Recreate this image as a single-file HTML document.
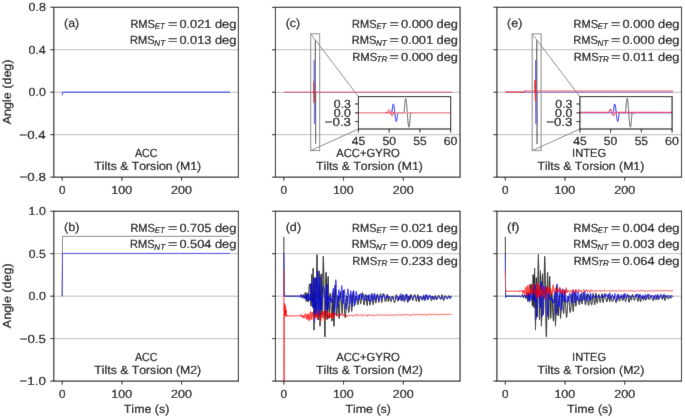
<!DOCTYPE html>
<html><head><meta charset="utf-8"><title>Figure</title>
<style>html,body{margin:0;padding:0;background:#fff;overflow:hidden;} svg{display:block;} text{-webkit-font-smoothing:antialiased;text-rendering:geometricPrecision;} svg{will-change:transform;}</style>
</head><body>
<svg width="685" height="418" viewBox="0 0 685 418">
<defs><filter id="soft" x="0" y="0" width="685" height="418" filterUnits="userSpaceOnUse"><feConvolveMatrix order="3" kernelMatrix="0.0052 0.0619 0.0052 0.0619 0.7314 0.0619 0.0052 0.0619 0.0052" edgeMode="duplicate"/></filter></defs>
<g filter="url(#soft)">
<rect width="685" height="418" fill="#fff"/>
<g font-family='"Liberation Sans", sans-serif' fill="#000" stroke="#000" stroke-width="0.2" style="font-kerning:none">
<line x1="53.80" y1="49.76" x2="238.40" y2="49.76" stroke="#bdbdbd" stroke-width="1.0"/>
<line x1="53.80" y1="92.23" x2="238.40" y2="92.23" stroke="#bdbdbd" stroke-width="1.0"/>
<line x1="53.80" y1="134.69" x2="238.40" y2="134.69" stroke="#bdbdbd" stroke-width="1.0"/>
<clipPath id="ca"><rect x="53.80" y="7.30" width="184.60" height="169.85"/></clipPath>
<g clip-path="url(#ca)">
<path d="M62.2 95.4L62.5 92.2L230.0 92.2" fill="none" stroke="#0000ff" stroke-width="0.85" stroke-linejoin="round"/>
</g>
<rect x="53.80" y="7.30" width="184.60" height="169.85" fill="none" stroke="#111" stroke-width="1.1"/>
<line x1="50.30" y1="7.30" x2="53.80" y2="7.30" stroke="#111" stroke-width="1.0"/>
<text x="28.56" y="11.35" font-size="11.81" textLength="17.28" lengthAdjust="spacingAndGlyphs">0.8</text>
<line x1="50.30" y1="49.76" x2="53.80" y2="49.76" stroke="#111" stroke-width="1.0"/>
<text x="28.43" y="53.81" font-size="11.81" textLength="17.24" lengthAdjust="spacingAndGlyphs">0.4</text>
<line x1="50.30" y1="92.23" x2="53.80" y2="92.23" stroke="#111" stroke-width="1.0"/>
<text x="28.54" y="96.28" font-size="11.81" textLength="17.25" lengthAdjust="spacingAndGlyphs">0.0</text>
<line x1="50.30" y1="134.69" x2="53.80" y2="134.69" stroke="#111" stroke-width="1.0"/>
<text x="19.36" y="138.74" font-size="11.81" textLength="26.33" lengthAdjust="spacingAndGlyphs">−0.4</text>
<line x1="50.30" y1="177.15" x2="53.80" y2="177.15" stroke="#111" stroke-width="1.0"/>
<text x="19.50" y="181.20" font-size="11.81" textLength="26.38" lengthAdjust="spacingAndGlyphs">−0.8</text>
<line x1="62.19" y1="177.15" x2="62.19" y2="180.65" stroke="#111" stroke-width="1.0"/>
<text x="58.92" y="193.75" font-size="11.81" textLength="6.55" lengthAdjust="spacingAndGlyphs">0</text>
<line x1="121.91" y1="177.15" x2="121.91" y2="180.65" stroke="#111" stroke-width="1.0"/>
<text x="111.31" y="193.75" font-size="11.81" textLength="20.75" lengthAdjust="spacingAndGlyphs">100</text>
<line x1="181.63" y1="177.15" x2="181.63" y2="180.65" stroke="#111" stroke-width="1.0"/>
<text x="171.14" y="193.75" font-size="11.81" textLength="20.85" lengthAdjust="spacingAndGlyphs">200</text>
<text x="64.03" y="27.40" font-size="11.81" textLength="15.17" lengthAdjust="spacingAndGlyphs">(a)</text>
<text x="179.40" y="27.65" font-size="11.81" textLength="56.92" lengthAdjust="spacingAndGlyphs">0.021 deg</text>
<text x="167.92" y="27.65" font-size="11.81" textLength="9.38" lengthAdjust="spacingAndGlyphs">=</text>
<text x="154.76" y="29.25" font-size="8.27" textLength="9.88" lengthAdjust="spacingAndGlyphs" font-style="italic">ET</text>
<text x="130.40" y="27.65" font-size="11.81" textLength="24.51" lengthAdjust="spacingAndGlyphs">RMS</text>
<text x="179.40" y="44.15" font-size="11.81" textLength="56.92" lengthAdjust="spacingAndGlyphs">0.013 deg</text>
<text x="167.92" y="44.15" font-size="11.81" textLength="9.38" lengthAdjust="spacingAndGlyphs">=</text>
<text x="154.35" y="45.75" font-size="8.27" textLength="10.77" lengthAdjust="spacingAndGlyphs" font-style="italic">NT</text>
<text x="130.09" y="44.15" font-size="11.81" textLength="24.62" lengthAdjust="spacingAndGlyphs">RMS</text>
<text x="134.92" y="156.90" font-size="11.81" textLength="22.76" lengthAdjust="spacingAndGlyphs">ACC</text>
<text x="94.33" y="169.55" font-size="11.81" textLength="106.82" lengthAdjust="spacingAndGlyphs">Tilts &amp; Torsion (M1)</text>
<line x1="53.80" y1="253.71" x2="238.40" y2="253.71" stroke="#bdbdbd" stroke-width="1.0"/>
<line x1="53.80" y1="296.18" x2="238.40" y2="296.18" stroke="#bdbdbd" stroke-width="1.0"/>
<line x1="53.80" y1="338.64" x2="238.40" y2="338.64" stroke="#bdbdbd" stroke-width="1.0"/>
<clipPath id="cb"><rect x="53.80" y="211.25" width="184.60" height="169.85"/></clipPath>
<g clip-path="url(#cb)">
<path d="M62.2 296.2L62.5 236.3L230.0 236.3" fill="none" stroke="#000000" stroke-width="0.8" stroke-linejoin="round" stroke-opacity="0.6"/>
<path d="M62.2 296.2L62.5 253.4L230.0 253.4" fill="none" stroke="#0000ff" stroke-width="0.7" stroke-linejoin="round"/>
</g>
<rect x="53.80" y="211.25" width="184.60" height="169.85" fill="none" stroke="#111" stroke-width="1.1"/>
<line x1="50.30" y1="211.25" x2="53.80" y2="211.25" stroke="#111" stroke-width="1.0"/>
<text x="28.58" y="215.30" font-size="11.81" textLength="17.20" lengthAdjust="spacingAndGlyphs">1.0</text>
<line x1="50.30" y1="253.71" x2="53.80" y2="253.71" stroke="#111" stroke-width="1.0"/>
<text x="28.76" y="257.76" font-size="11.81" textLength="17.05" lengthAdjust="spacingAndGlyphs">0.5</text>
<line x1="50.30" y1="296.18" x2="53.80" y2="296.18" stroke="#111" stroke-width="1.0"/>
<text x="28.54" y="300.23" font-size="11.81" textLength="17.25" lengthAdjust="spacingAndGlyphs">0.0</text>
<line x1="50.30" y1="338.64" x2="53.80" y2="338.64" stroke="#111" stroke-width="1.0"/>
<text x="19.70" y="342.69" font-size="11.81" textLength="26.16" lengthAdjust="spacingAndGlyphs">−0.5</text>
<line x1="50.30" y1="381.10" x2="53.80" y2="381.10" stroke="#111" stroke-width="1.0"/>
<text x="19.47" y="385.15" font-size="11.81" textLength="26.35" lengthAdjust="spacingAndGlyphs">−1.0</text>
<line x1="62.19" y1="381.10" x2="62.19" y2="384.60" stroke="#111" stroke-width="1.0"/>
<text x="58.92" y="397.70" font-size="11.81" textLength="6.55" lengthAdjust="spacingAndGlyphs">0</text>
<line x1="121.91" y1="381.10" x2="121.91" y2="384.60" stroke="#111" stroke-width="1.0"/>
<text x="111.31" y="397.70" font-size="11.81" textLength="20.75" lengthAdjust="spacingAndGlyphs">100</text>
<line x1="181.63" y1="381.10" x2="181.63" y2="384.60" stroke="#111" stroke-width="1.0"/>
<text x="171.14" y="397.70" font-size="11.81" textLength="20.85" lengthAdjust="spacingAndGlyphs">200</text>
<text x="64.02" y="231.35" font-size="11.81" textLength="15.45" lengthAdjust="spacingAndGlyphs">(b)</text>
<text x="179.40" y="231.60" font-size="11.81" textLength="56.92" lengthAdjust="spacingAndGlyphs">0.705 deg</text>
<text x="167.92" y="231.60" font-size="11.81" textLength="9.38" lengthAdjust="spacingAndGlyphs">=</text>
<text x="154.76" y="233.20" font-size="8.27" textLength="9.88" lengthAdjust="spacingAndGlyphs" font-style="italic">ET</text>
<text x="130.40" y="231.60" font-size="11.81" textLength="24.51" lengthAdjust="spacingAndGlyphs">RMS</text>
<text x="179.40" y="248.10" font-size="11.81" textLength="56.92" lengthAdjust="spacingAndGlyphs">0.504 deg</text>
<text x="167.92" y="248.10" font-size="11.81" textLength="9.38" lengthAdjust="spacingAndGlyphs">=</text>
<text x="154.35" y="249.70" font-size="8.27" textLength="10.77" lengthAdjust="spacingAndGlyphs" font-style="italic">NT</text>
<text x="130.09" y="248.10" font-size="11.81" textLength="24.62" lengthAdjust="spacingAndGlyphs">RMS</text>
<text x="134.92" y="360.85" font-size="11.81" textLength="22.76" lengthAdjust="spacingAndGlyphs">ACC</text>
<text x="94.33" y="373.50" font-size="11.81" textLength="106.82" lengthAdjust="spacingAndGlyphs">Tilts &amp; Torsion (M2)</text>
<line x1="275.45" y1="49.76" x2="460.05" y2="49.76" stroke="#bdbdbd" stroke-width="1.0"/>
<line x1="275.45" y1="92.23" x2="460.05" y2="92.23" stroke="#bdbdbd" stroke-width="1.0"/>
<line x1="275.45" y1="134.69" x2="460.05" y2="134.69" stroke="#bdbdbd" stroke-width="1.0"/>
<clipPath id="cc"><rect x="275.45" y="7.30" width="184.60" height="169.85"/></clipPath>
<g clip-path="url(#cc)">
<path d="M314.9 92.2L315.1 92.2L315.2 89.1L315.2 82.8L315.2 76.7L315.2 70.9L315.2 65.3L315.2 60.1L315.2 55.4L315.2 51.3L315.3 47.7L315.3 44.8L315.3 42.6L315.3 41.1L315.3 40.3L315.3 41.1L315.3 42.6L315.4 44.8L315.4 47.7L315.4 51.3L315.4 55.4L315.4 60.1L315.4 65.3L315.4 70.9L315.4 76.7L315.4 82.8L315.5 89.1L315.5 95.4L315.5 101.6L315.5 107.7L315.5 113.6L315.5 119.1L315.5 124.3L315.5 129.0L315.6 133.2L315.6 136.7L315.6 139.7L315.6 141.9L315.6 143.4L315.6 144.1L315.6 143.4L315.6 141.9L315.7 139.7L315.7 136.7L315.7 133.2L315.7 129.0L315.7 124.3L315.7 119.1L315.7 113.6L315.7 107.7L315.8 101.6L315.8 95.4L315.8 92.2L316.1 92.2" fill="none" stroke="#333" stroke-width="0.6" stroke-linejoin="round"/>
<path d="M313.7 92.2L314.0 92.2L314.0 90.1L314.0 86.0L314.0 82.0L314.0 78.1L314.0 74.5L314.0 71.2L314.0 68.3L314.0 65.7L314.1 63.7L314.1 62.1L314.1 61.0L314.1 60.4L314.1 61.0L314.1 62.1L314.1 63.7L314.2 65.7L314.2 68.3L314.2 71.2L314.2 74.5L314.2 78.1L314.2 82.0L314.2 86.0L314.2 90.1L314.3 94.3L314.3 98.4L314.3 102.5L314.3 106.3L314.3 109.9L314.3 113.2L314.3 116.2L314.3 118.7L314.3 120.8L314.4 122.4L314.4 123.5L314.4 124.0L314.4 123.5L314.4 122.4L314.4 120.8L314.4 118.7L314.5 116.2L314.5 113.2L314.5 109.9L314.5 106.3L314.5 102.5L314.5 98.4L314.5 94.3L314.5 92.2L314.9 92.2" fill="none" stroke="#4040ff" stroke-width="0.6" stroke-linejoin="round"/>
<path d="M283.8 92.2L451.7 92.2" fill="none" stroke="#dc4068" stroke-width="1.1" stroke-linejoin="round"/>
<path d="M313.3 92.2L313.5 92.2L313.5 90.9L313.6 89.6L313.6 88.3L313.6 87.1L313.6 86.0L313.6 85.0L313.6 84.0L313.6 83.3L313.6 82.6L313.7 82.1L313.7 81.8L313.7 81.6L313.7 81.8L313.7 82.1L313.7 82.6L313.7 83.3L313.7 84.0L313.8 85.0L313.8 86.0L313.8 87.1L313.8 88.3L313.8 89.6L313.8 90.9L313.8 92.2L313.8 93.6L313.9 94.9L313.9 96.1L313.9 97.3L313.9 98.5L313.9 99.5L313.9 100.4L313.9 101.2L313.9 101.8L314.0 102.3L314.0 102.7L314.0 102.8L314.0 102.7L314.0 102.3L314.0 101.8L314.0 101.2L314.0 100.4L314.1 99.5L314.1 98.5L314.1 97.3L314.1 96.1L314.1 94.9L314.1 93.6L314.1 92.2L314.3 92.2" fill="none" stroke="#ff0000" stroke-width="0.7" stroke-linejoin="round"/>
</g>
<rect x="275.45" y="7.30" width="184.60" height="169.85" fill="none" stroke="#111" stroke-width="1.1"/>
<line x1="271.95" y1="7.30" x2="275.45" y2="7.30" stroke="#111" stroke-width="1.0"/>
<line x1="271.95" y1="49.76" x2="275.45" y2="49.76" stroke="#111" stroke-width="1.0"/>
<line x1="271.95" y1="92.23" x2="275.45" y2="92.23" stroke="#111" stroke-width="1.0"/>
<line x1="271.95" y1="134.69" x2="275.45" y2="134.69" stroke="#111" stroke-width="1.0"/>
<line x1="271.95" y1="177.15" x2="275.45" y2="177.15" stroke="#111" stroke-width="1.0"/>
<line x1="283.84" y1="177.15" x2="283.84" y2="180.65" stroke="#111" stroke-width="1.0"/>
<text x="280.57" y="193.75" font-size="11.81" textLength="6.55" lengthAdjust="spacingAndGlyphs">0</text>
<line x1="343.56" y1="177.15" x2="343.56" y2="180.65" stroke="#111" stroke-width="1.0"/>
<text x="332.96" y="193.75" font-size="11.81" textLength="20.75" lengthAdjust="spacingAndGlyphs">100</text>
<line x1="403.28" y1="177.15" x2="403.28" y2="180.65" stroke="#111" stroke-width="1.0"/>
<text x="392.79" y="193.75" font-size="11.81" textLength="20.85" lengthAdjust="spacingAndGlyphs">200</text>
<rect x="310.72" y="33.84" width="8.96" height="116.77" fill="none" stroke="#888" stroke-width="1.0"/>
<line x1="310.72" y1="33.84" x2="358.45" y2="96.60" stroke="#888" stroke-width="1.0"/>
<line x1="310.72" y1="150.61" x2="358.45" y2="129.00" stroke="#888" stroke-width="1.0"/>
<rect x="358.45" y="96.60" width="92.20" height="32.40" fill="#fff" stroke="none"/>
<clipPath id="cci"><rect x="358.45" y="96.60" width="92.20" height="32.40"/></clipPath>
<g clip-path="url(#cci)">
<path d="M401.5 112.8L401.5 112.8L401.6 112.8L401.7 112.8L401.8 112.8L402.0 112.8L402.1 112.8L402.2 112.8L402.3 112.8L402.5 112.8L402.6 112.8L402.7 112.8L402.8 112.8L403.0 112.8L403.1 112.8L403.2 112.8L403.3 112.8L403.4 112.8L403.6 112.8L403.7 112.8L403.8 112.8L403.9 112.8L404.1 112.8L404.2 111.9L404.3 110.2L404.4 108.5L404.6 106.9L404.6 106.9L404.7 105.3L404.8 103.9L404.9 102.6L405.0 101.4L405.2 100.4L405.3 99.6L405.4 99.0L405.5 98.6L405.7 98.4L405.8 98.4L405.9 98.6L406.0 99.0L406.1 99.6L406.3 100.4L406.4 101.4L406.5 102.6L406.6 103.9L406.8 105.3L406.9 106.9L407.0 108.5L407.1 110.2L407.3 111.9L407.4 113.7L407.5 115.4L407.6 117.1L407.6 117.1L407.7 118.7L407.9 120.3L408.0 121.7L408.1 123.0L408.2 124.2L408.4 125.2L408.5 126.0L408.6 126.6L408.7 127.0L408.9 127.2L409.0 127.2L409.1 127.0L409.2 126.6L409.3 126.0L409.5 125.2L409.6 124.2L409.7 123.0L409.8 121.7L410.0 120.3L410.1 118.7L410.2 117.1L410.3 115.4L410.5 113.7L410.6 112.8L410.7 112.8L410.7 112.8L410.8 112.8L410.9 112.8L411.1 112.8L411.2 112.8L411.3 112.8L411.4 112.8L411.6 112.8L411.7 112.8L411.8 112.8L411.9 112.8L412.0 112.8L412.2 112.8L412.3 112.8L412.4 112.8L412.5 112.8L412.7 112.8L412.8 112.8L412.9 112.8L413.0 112.8L413.2 112.8L413.3 112.8L413.4 112.8L413.5 112.8L413.6 112.8L413.8 112.8" fill="none" stroke="#3a3a3a" stroke-width="0.8" stroke-linejoin="round"/>
<path d="M389.2 112.8L389.2 112.8L389.3 112.8L389.4 112.8L389.6 112.8L389.7 112.8L389.8 112.8L389.9 112.8L390.0 112.8L390.2 112.8L390.3 112.8L390.4 112.8L390.5 112.8L390.7 112.8L390.8 112.8L390.9 112.8L391.0 112.8L391.2 112.8L391.3 112.8L391.4 112.8L391.5 112.8L391.6 112.8L391.8 112.8L391.9 112.2L392.0 111.1L392.1 110.0L392.3 108.9L392.3 108.9L392.4 107.9L392.5 107.0L392.6 106.2L392.7 105.5L392.9 104.9L393.0 104.4L393.1 104.1L393.2 104.0L393.4 104.0L393.5 104.1L393.6 104.4L393.7 104.9L393.9 105.5L394.0 106.2L394.1 107.0L394.2 107.9L394.3 108.9L394.5 110.0L394.6 111.1L394.7 112.2L394.8 113.4L395.0 114.5L395.1 115.6L395.2 116.7L395.3 117.7L395.3 117.7L395.5 118.6L395.6 119.4L395.7 120.1L395.8 120.7L395.9 121.2L396.1 121.5L396.2 121.6L396.3 121.6L396.4 121.5L396.6 121.2L396.7 120.7L396.8 120.1L396.9 119.4L397.1 118.6L397.2 117.7L397.3 116.7L397.4 115.6L397.5 114.5L397.7 113.4L397.8 112.8L397.9 112.8L398.0 112.8L398.2 112.8L398.3 112.8L398.4 112.8L398.4 112.8L398.5 112.8L398.6 112.8L398.8 112.8L398.9 112.8L399.0 112.8L399.1 112.8L399.3 112.8L399.4 112.8L399.5 112.8L399.6 112.8L399.8 112.8L399.9 112.8L400.0 112.8L400.1 112.8L400.2 112.8L400.4 112.8L400.5 112.8L400.6 112.8L400.7 112.8L400.9 112.8L401.0 112.8L401.1 112.8L401.2 112.8L401.4 112.8L401.5 112.8" fill="none" stroke="#0000ff" stroke-width="0.9" stroke-linejoin="round"/>
<path d="M355.4 112.8L358.4 112.8L361.5 112.8L364.6 112.8L367.7 112.8L370.7 112.8L373.8 112.8L376.9 112.8L380.0 112.8L383.0 112.8L383.2 112.8L383.3 112.8L383.4 112.8L383.5 112.8L383.7 112.8L383.8 112.8L383.9 112.8L384.0 112.8L384.1 112.8L384.3 112.8L384.4 112.8L384.5 112.8L384.6 112.8L384.8 112.8L384.9 112.8L385.0 112.8L385.1 112.8L385.2 112.8L385.4 112.8L385.5 112.8L385.6 112.8L385.7 112.8L385.9 112.8L386.0 112.8L386.1 112.8L386.1 112.8L386.2 112.8L386.4 112.8L386.5 112.8L386.6 112.8L386.7 112.8L386.8 112.8L387.0 112.8L387.1 112.8L387.2 112.8L387.3 112.8L387.5 112.8L387.6 112.8L387.7 112.8L387.8 112.8L388.0 112.8L388.1 112.8L388.2 112.8L388.3 112.8L388.4 112.8L388.6 112.8L388.7 112.8L388.8 112.8L388.9 112.8L389.1 112.8L389.2 112.8L389.2 112.8L389.3 112.8L389.4 112.8L389.6 112.8L389.7 112.8L389.8 112.8L389.9 112.8L390.0 112.8L390.2 112.8L390.3 112.8L390.4 112.8L390.5 112.8L390.7 112.8L390.8 112.8L390.9 112.8L391.0 112.8L391.2 112.8L391.3 112.8L391.4 112.8L391.5 112.8L391.6 112.8L391.8 112.8L391.9 112.8L392.0 112.8L392.1 112.8L392.3 112.8L392.3 112.8L392.4 112.8L392.5 112.8L392.6 112.8L392.7 112.8L392.9 112.8L393.0 112.8L393.1 112.8L393.2 112.8L393.4 112.8L393.5 112.8L393.6 112.8L393.7 112.8L393.9 112.8L394.0 112.8L394.1 112.8L394.2 112.8L394.3 112.8L394.5 112.8L394.6 112.8L394.7 112.8L394.8 112.8L395.0 112.8L395.1 112.8L395.2 112.8L395.3 112.8L395.3 112.8L395.5 112.8L395.6 112.8L395.7 112.8L395.8 112.8L395.9 112.8L396.1 112.8L396.2 112.8L396.3 112.8L396.4 112.8L396.6 112.8L396.7 112.8L396.8 112.8L396.9 112.8L397.1 112.8L397.2 112.8L397.3 112.8L397.4 112.8L397.5 112.8L397.7 112.8L397.8 112.8L397.9 112.8L398.0 112.8L398.2 112.8L398.3 112.8L398.4 112.8L398.4 112.8L398.5 112.8L398.6 112.8L398.8 112.8L398.9 112.8L399.0 112.8L399.1 112.8L399.3 112.8L399.4 112.8L399.5 112.8L399.6 112.8L399.8 112.8L399.9 112.8L400.0 112.8L400.1 112.8L400.2 112.8L400.4 112.8L400.5 112.8L400.6 112.8L400.7 112.8L400.9 112.8L401.0 112.8L401.1 112.8L401.2 112.8L401.4 112.8L401.5 112.8L401.5 112.8L401.6 112.8L401.7 112.8L401.8 112.8L402.0 112.8L402.1 112.8L402.2 112.8L402.3 112.8L402.5 112.8L402.6 112.8L402.7 112.8L402.8 112.8L403.0 112.8L403.1 112.8L403.2 112.8L403.3 112.8L403.4 112.8L403.6 112.8L403.7 112.8L403.8 112.8L403.9 112.8L404.1 112.8L404.2 112.8L404.3 112.8L404.4 112.8L404.6 112.8L404.6 112.8L404.7 112.8L404.8 112.8L404.9 112.8L405.0 112.8L405.2 112.8L405.3 112.8L405.4 112.8L405.5 112.8L405.7 112.8L405.8 112.8L405.9 112.8L406.0 112.8L406.1 112.8L406.3 112.8L406.4 112.8L406.5 112.8L406.6 112.8L406.8 112.8L406.9 112.8L407.0 112.8L407.1 112.8L407.3 112.8L407.4 112.8L407.5 112.8L407.6 112.8L407.6 112.8L407.7 112.8L407.9 112.8L408.0 112.8L408.1 112.8L408.2 112.8L408.4 112.8L408.5 112.8L408.6 112.8L408.7 112.8L408.9 112.8L409.0 112.8L409.1 112.8L409.2 112.8L409.3 112.8L409.5 112.8L409.6 112.8L409.7 112.8L409.8 112.8L410.0 112.8L410.1 112.8L410.2 112.8L410.3 112.8L410.5 112.8L410.6 112.8L410.7 112.8L410.7 112.8L410.8 112.8L410.9 112.8L411.1 112.8L411.2 112.8L411.3 112.8L411.4 112.8L411.6 112.8L411.7 112.8L411.8 112.8L411.9 112.8L412.0 112.8L412.2 112.8L412.3 112.8L412.4 112.8L412.5 112.8L412.7 112.8L412.8 112.8L412.9 112.8L413.0 112.8L413.2 112.8L413.3 112.8L413.4 112.8L413.5 112.8L413.6 112.8L413.8 112.8L413.8 112.8L413.9 112.8L414.0 112.8L414.1 112.8L414.3 112.8L414.4 112.8L414.5 112.8L414.6 112.8L414.8 112.8L414.9 112.8L415.0 112.8L415.1 112.8L415.2 112.8L415.4 112.8L415.5 112.8L415.6 112.8L415.7 112.8L415.9 112.8L416.0 112.8L416.1 112.8L416.2 112.8L416.4 112.8L416.5 112.8L416.6 112.8L416.7 112.8L416.8 112.8L419.9 112.8L423.0 112.8L426.1 112.8L429.1 112.8L432.2 112.8L435.3 112.8L438.4 112.8L441.4 112.8L444.5 112.8L447.6 112.8L450.6 112.8L453.7 112.8" fill="none" stroke="#f0909c" stroke-width="1.6" stroke-linejoin="round"/>
<path d="M385.5 112.8L385.6 112.8L385.7 112.8L385.9 112.8L386.0 112.8L386.1 112.8L386.1 112.8L386.2 112.8L386.4 112.8L386.5 112.8L386.6 112.8L386.7 112.8L386.8 112.8L387.0 112.8L387.1 112.8L387.2 112.8L387.3 112.8L387.5 112.8L387.6 112.4L387.7 112.1L387.8 111.7L388.0 111.4L388.1 111.1L388.2 110.8L388.3 110.5L388.4 110.3L388.6 110.1L388.7 110.0L388.8 109.9L388.9 109.9L389.1 109.9L389.2 109.9L389.2 109.9L389.3 110.0L389.4 110.1L389.6 110.3L389.7 110.5L389.8 110.8L389.9 111.1L390.0 111.4L390.2 111.7L390.3 112.1L390.4 112.4L390.5 112.8L390.7 113.2L390.8 113.5L390.9 113.9L391.0 114.2L391.2 114.5L391.3 114.8L391.4 115.1L391.5 115.3L391.6 115.5L391.8 115.6L391.9 115.7L392.0 115.7L392.1 115.7L392.3 115.7L392.3 115.7L392.4 115.6L392.5 115.5L392.6 115.3L392.7 115.1L392.9 114.8L393.0 114.5L393.1 114.2L393.2 113.9L393.4 113.5L393.5 113.2L393.6 112.8L393.7 112.8L393.9 112.8L394.0 112.8L394.1 112.8L394.2 112.8L394.3 112.8L394.5 112.8L394.6 112.8L394.7 112.8L394.8 112.8L395.0 112.8L395.1 112.8L395.2 112.8L395.3 112.8" fill="none" stroke="#ff0000" stroke-width="0.9" stroke-linejoin="round"/>
</g>
<rect x="358.45" y="96.60" width="92.20" height="32.40" fill="none" stroke="#111" stroke-width="1.1"/>
<line x1="354.95" y1="103.96" x2="358.45" y2="103.96" stroke="#111" stroke-width="1.0"/>
<text x="333.83" y="108.01" font-size="11.81" textLength="17.16" lengthAdjust="spacingAndGlyphs">0.3</text>
<line x1="354.95" y1="112.80" x2="358.45" y2="112.80" stroke="#111" stroke-width="1.0"/>
<text x="333.69" y="116.85" font-size="11.81" textLength="17.25" lengthAdjust="spacingAndGlyphs">0.0</text>
<line x1="354.95" y1="121.64" x2="358.45" y2="121.64" stroke="#111" stroke-width="1.0"/>
<text x="324.76" y="125.69" font-size="11.81" textLength="26.27" lengthAdjust="spacingAndGlyphs">−0.3</text>
<line x1="358.45" y1="129.00" x2="358.45" y2="132.50" stroke="#111" stroke-width="1.0"/>
<text x="351.82" y="145.10" font-size="11.81" textLength="13.50" lengthAdjust="spacingAndGlyphs">45</text>
<line x1="389.18" y1="129.00" x2="389.18" y2="132.50" stroke="#111" stroke-width="1.0"/>
<text x="382.40" y="145.10" font-size="11.81" textLength="13.56" lengthAdjust="spacingAndGlyphs">50</text>
<line x1="419.92" y1="129.00" x2="419.92" y2="132.50" stroke="#111" stroke-width="1.0"/>
<text x="413.25" y="145.10" font-size="11.81" textLength="13.36" lengthAdjust="spacingAndGlyphs">55</text>
<line x1="450.65" y1="129.00" x2="450.65" y2="132.50" stroke="#111" stroke-width="1.0"/>
<text x="443.68" y="145.10" font-size="11.81" textLength="13.80" lengthAdjust="spacingAndGlyphs">60</text>
<text x="285.68" y="27.40" font-size="11.81" textLength="14.47" lengthAdjust="spacingAndGlyphs">(c)</text>
<text x="401.05" y="27.65" font-size="11.81" textLength="56.92" lengthAdjust="spacingAndGlyphs">0.000 deg</text>
<text x="389.57" y="27.65" font-size="11.81" textLength="9.38" lengthAdjust="spacingAndGlyphs">=</text>
<text x="376.41" y="29.25" font-size="8.27" textLength="9.88" lengthAdjust="spacingAndGlyphs" font-style="italic">ET</text>
<text x="352.05" y="27.65" font-size="11.81" textLength="24.51" lengthAdjust="spacingAndGlyphs">RMS</text>
<text x="401.05" y="44.15" font-size="11.81" textLength="56.92" lengthAdjust="spacingAndGlyphs">0.001 deg</text>
<text x="389.57" y="44.15" font-size="11.81" textLength="9.38" lengthAdjust="spacingAndGlyphs">=</text>
<text x="376.00" y="45.75" font-size="8.27" textLength="10.77" lengthAdjust="spacingAndGlyphs" font-style="italic">NT</text>
<text x="351.74" y="44.15" font-size="11.81" textLength="24.62" lengthAdjust="spacingAndGlyphs">RMS</text>
<text x="401.05" y="60.65" font-size="11.81" textLength="56.92" lengthAdjust="spacingAndGlyphs">0.000 deg</text>
<text x="389.57" y="60.65" font-size="11.81" textLength="9.38" lengthAdjust="spacingAndGlyphs">=</text>
<text x="376.62" y="62.25" font-size="8.27" textLength="10.88" lengthAdjust="spacingAndGlyphs" font-style="italic">TR</text>
<text x="352.23" y="60.65" font-size="11.81" textLength="25.04" lengthAdjust="spacingAndGlyphs">RMS</text>
<text x="336.19" y="156.90" font-size="11.81" textLength="63.64" lengthAdjust="spacingAndGlyphs">ACC+GYRO</text>
<text x="315.98" y="169.55" font-size="11.81" textLength="106.82" lengthAdjust="spacingAndGlyphs">Tilts &amp; Torsion (M1)</text>
<line x1="275.45" y1="253.71" x2="460.05" y2="253.71" stroke="#bdbdbd" stroke-width="1.0"/>
<line x1="275.45" y1="296.18" x2="460.05" y2="296.18" stroke="#bdbdbd" stroke-width="1.0"/>
<line x1="275.45" y1="338.64" x2="460.05" y2="338.64" stroke="#bdbdbd" stroke-width="1.0"/>
<clipPath id="cd"><rect x="275.45" y="211.25" width="184.60" height="169.85"/></clipPath>
<g clip-path="url(#cd)">
<path d="M283.8 236.7L284.1 296.2L298.2 296.2L298.5 296.3L298.8 296.5L299.1 296.8L299.4 296.9L299.7 296.8L300.0 296.3L300.3 295.5L300.6 294.8L300.9 294.4L301.2 294.8L301.5 296.4L301.8 297.7L302.1 297.5L302.4 296.3L302.7 295.1L303.0 294.9L303.3 295.4L303.5 296.4L303.8 297.6L304.1 298.5L304.4 298.8L304.7 297.3L305.0 294.0L305.3 292.3L305.6 294.4L305.9 298.9L306.2 301.5L306.5 300.0L306.8 295.9L307.1 292.8L307.4 293.6L307.7 298.1L308.0 302.1L308.3 301.9L308.6 296.7L308.9 289.5L309.2 284.4L309.5 283.9L309.8 285.2L310.1 286.0L310.4 293.1L310.7 305.3L311.0 306.1L311.3 289.0L311.6 274.6L311.9 283.2L312.2 305.3L312.5 307.8L312.8 283.9L313.1 268.1L313.4 283.6L313.7 314.6L314.0 330.1L314.3 317.0L314.6 290.7L314.9 277.5L315.2 286.4L315.5 305.1L315.8 317.0L316.1 310.8L316.4 288.6L316.7 264.7L317.0 254.6L317.3 266.5L317.6 293.9L317.9 317.2L318.2 319.9L318.5 303.1L318.8 280.8L319.1 270.7L319.4 283.2L319.7 309.4L320.0 326.2L320.3 319.7L320.6 297.1L320.9 276.5L321.2 273.8L321.5 287.8L321.8 306.4L322.1 314.9L322.4 306.3L322.7 285.6L323.0 264.8L323.3 256.3L323.6 262.6L323.9 279.6L324.2 302.1L324.5 323.1L324.8 336.3L325.0 337.0L325.3 320.1L325.6 294.2L325.9 274.4L326.2 272.2L326.5 286.9L326.8 307.6L327.1 319.6L327.4 314.1L327.7 295.4L328.0 278.3L328.3 276.4L328.6 290.7L328.9 309.7L329.2 318.3L329.5 313.2L329.8 301.9L330.1 293.5L330.4 293.3L330.7 297.5L331.0 304.2L331.3 311.8L331.6 318.0L331.9 321.2L332.2 318.6L332.5 306.2L332.8 294.0L333.1 292.5L333.4 303.4L333.7 318.5L334.0 326.3L334.3 317.9L334.6 297.8L334.9 285.1L335.2 286.4L335.5 292.0L335.8 300.1L336.1 308.3L336.4 314.1L336.7 315.9L337.0 313.1L337.3 306.9L337.6 300.1L337.9 295.6L338.2 295.9L338.5 303.3L338.8 313.2L339.1 318.6L339.4 316.2L339.7 308.3L340.0 298.7L340.3 292.3L340.6 291.7L340.9 294.5L341.2 299.4L341.5 305.3L341.8 310.4L342.1 313.6L342.4 313.4L342.7 305.8L343.0 295.3L343.3 290.2L343.6 291.7L343.9 296.2L344.2 302.7L344.5 309.4L344.8 314.8L345.1 317.5L345.4 316.9L345.7 313.5L346.0 308.4L346.3 302.7L346.5 298.1L346.8 295.8L347.1 296.2L347.4 298.6L347.7 302.4L348.0 306.6L348.3 310.3L348.6 312.4L348.9 312.4L349.2 310.1L349.5 305.8L349.8 300.8L350.1 296.5L350.4 293.9L350.7 294.1L351.0 299.7L351.3 307.3L351.6 311.5L351.9 310.3L352.2 306.1L352.5 300.3L352.8 294.9L353.1 291.9L353.4 292.5L353.7 297.7L354.0 303.7L354.3 306.3L354.6 305.5L354.9 303.4L355.2 300.6L355.5 298.0L355.8 296.4L356.1 296.1L356.4 297.1L356.7 298.8L357.0 300.9L357.3 303.0L357.6 304.4L357.9 304.9L358.2 303.9L358.5 301.3L358.8 298.0L359.1 295.3L359.4 294.2L359.7 295.5L360.0 298.9L360.3 302.4L360.6 304.1L360.9 303.4L361.2 301.2L361.5 298.2L361.8 295.2L362.1 293.0L362.4 292.4L362.7 293.6L363.0 296.5L363.3 300.0L363.6 303.1L363.9 304.9L364.2 304.9L364.5 303.1L364.8 300.3L365.1 297.3L365.4 294.9L365.7 294.1L366.0 295.2L366.3 298.2L366.6 301.8L366.9 304.7L367.2 305.7L367.5 304.1L367.8 300.2L368.0 296.6L368.3 295.4L368.6 296.1L368.9 297.7L369.2 300.0L369.5 302.3L369.8 304.2L370.1 305.2L370.4 304.7L370.7 302.0L371.0 298.2L371.3 294.8L371.6 293.4L371.9 294.2L372.2 296.4L372.5 299.5L372.8 302.5L373.1 304.5L373.4 304.9L373.7 301.2L374.0 295.6L374.3 293.1L374.6 294.2L374.9 297.0L375.2 300.2L375.5 302.6L375.8 303.2L376.1 302.1L376.4 300.0L376.7 297.5L377.0 295.3L377.3 294.2L377.6 294.6L377.9 296.7L378.2 299.5L378.5 301.8L378.8 302.5L379.1 301.8L379.4 300.3L379.7 298.2L380.0 296.1L380.3 294.4L380.6 293.6L380.9 294.5L381.2 298.3L381.5 302.0L381.8 302.6L382.1 301.5L382.4 299.4L382.7 296.9L383.0 294.8L383.3 293.5L383.6 293.5L383.9 294.5L384.2 296.1L384.5 298.1L384.8 300.0L385.1 301.4L385.4 302.0L385.7 301.7L386.0 300.4L386.3 298.7L386.6 296.7L386.9 295.1L387.2 294.2L387.5 294.5L387.8 297.5L388.1 300.9L388.4 301.7L388.7 300.1L389.0 297.7L389.2 296.1L389.5 296.1L389.8 297.1L390.1 298.7L390.4 300.3L390.7 301.5L391.0 301.9L391.3 301.5L391.6 300.2L391.9 298.6L392.2 297.1L392.5 296.1L392.8 296.0L393.1 296.7L393.4 298.1L393.7 299.8L394.0 301.4L394.3 302.5L394.6 302.9L394.9 302.3L395.2 300.7L395.5 298.6L395.8 296.5L396.1 295.0L396.4 294.5L396.7 295.2L397.0 297.1L397.3 299.3L397.6 300.9L397.9 301.3L398.2 300.8L398.5 299.9L398.8 298.6L399.1 297.4L399.4 296.4L399.7 295.8L400.0 296.0L400.3 297.0L400.6 298.5L400.9 300.0L401.2 300.9L401.5 300.5L401.8 298.0L402.1 295.2L402.4 294.3L402.7 294.9L403.0 296.2L403.3 297.9L403.6 299.7L403.9 301.1L404.2 301.8L404.5 301.6L404.8 300.4L405.1 298.6L405.4 296.6L405.7 294.9L406.0 294.0L406.3 294.1L406.6 295.8L406.9 298.3L407.2 300.8L407.5 302.3L407.8 302.3L408.1 300.7L408.4 298.2L408.7 296.2L409.0 295.9L409.3 297.1L409.6 299.0L409.9 300.3L410.2 300.0L410.5 297.5L410.7 294.9L411.0 294.3L411.3 294.8L411.6 295.9L411.9 297.4L412.2 298.8L412.5 299.9L412.8 300.5L413.1 300.3L413.4 299.3L413.7 297.8L414.0 296.1L414.3 294.8L414.6 294.2L414.9 294.6L415.2 295.9L415.5 297.7L415.8 299.7L416.1 301.1L416.4 301.5L416.7 300.7L417.0 298.9L417.3 296.7L417.6 295.0L417.9 294.5L418.2 295.8L418.5 298.6L418.8 301.2L419.1 302.0L419.4 300.9L419.7 298.6L420.0 296.6L420.3 296.1L420.6 296.5L420.9 297.2L421.2 298.1L421.5 299.1L421.8 299.9L422.1 300.3L422.4 300.1L422.7 298.9L423.0 297.2L423.3 296.1L423.6 296.6L423.9 298.6L424.2 300.2L424.5 300.2L424.8 299.6L425.1 298.5L425.4 297.1L425.7 295.9L426.0 294.9L426.3 294.5L426.6 295.0L426.9 296.4L427.2 298.2L427.5 299.6L427.8 300.0L428.1 299.6L428.4 298.7L428.7 297.6L429.0 296.4L429.3 295.5L429.6 295.1L429.9 295.3L430.2 296.1L430.5 297.3L430.8 298.7L431.1 299.9L431.4 300.7L431.7 300.8L432.0 299.4L432.2 297.3L432.5 296.0L432.8 296.2L433.1 296.8L433.4 297.8L433.7 298.8L434.0 299.6L434.3 300.0L434.6 299.8L434.9 298.3L435.2 296.3L435.5 295.3L435.8 295.8L436.1 297.4L436.4 299.1L436.7 300.0L437.0 299.9L437.3 299.2L437.6 298.2L437.9 297.0L438.2 296.0L438.5 295.3L438.8 295.3L439.1 295.6L439.4 296.3L439.7 297.2L440.0 298.1L440.3 298.9L440.6 299.4L440.9 299.4L441.2 298.5L441.5 296.8L441.8 295.2L442.1 294.5L442.4 295.1L442.7 296.6L443.0 298.5L443.3 300.0L443.6 300.6L443.9 300.0L444.2 298.6L444.5 297.0L444.8 295.8L445.1 295.5L445.4 295.7L445.7 296.3L446.0 297.1L446.3 298.0L446.6 298.7L446.9 299.1L447.2 299.1L447.5 298.5L447.8 297.6L448.1 296.5L448.4 295.7L448.7 295.4L449.0 296.1L449.3 297.4L449.6 298.2L449.9 298.1L450.2 297.4L450.5 296.7L450.8 296.2L451.7 296.2" fill="none" stroke="#000000" stroke-width="0.85" stroke-linejoin="round"/>
<path d="M283.8 253.7L284.1 295.8L284.4 296.2L297.6 296.2L297.9 296.1L298.2 296.0L298.5 295.9L298.8 295.8L299.1 295.8L299.4 296.5L299.7 297.2L300.0 297.2L300.3 296.5L300.6 295.6L300.9 295.2L301.2 295.2L301.5 295.7L301.8 296.5L302.1 297.6L302.4 298.2L302.7 297.7L303.0 296.5L303.3 295.2L303.5 294.5L303.8 294.5L304.1 295.2L304.4 296.5L304.7 297.9L305.0 299.1L305.3 298.9L305.6 297.2L305.9 294.9L306.2 294.3L306.5 296.0L306.8 298.6L307.1 300.3L307.4 300.3L307.7 299.4L308.0 297.8L308.3 296.1L308.6 294.8L308.9 294.1L309.2 297.0L309.5 300.5L309.8 299.5L310.1 295.0L310.4 288.8L310.7 283.6L311.0 285.7L311.3 294.7L311.6 301.5L311.9 300.7L312.2 298.8L312.5 303.0L312.8 307.7L313.1 301.1L313.4 285.2L313.7 278.6L314.0 290.6L314.3 311.1L314.6 322.3L314.9 315.3L315.2 295.5L315.5 279.6L315.8 277.9L316.1 289.4L316.4 306.3L316.7 315.0L317.0 308.0L317.3 288.4L317.6 271.2L317.9 272.1L318.2 289.3L318.5 308.7L318.8 317.0L319.1 309.5L319.4 292.1L319.7 277.5L320.0 276.7L320.3 289.4L320.6 303.8L320.9 310.4L321.2 307.8L321.5 300.7L321.8 296.8L322.1 297.3L322.4 298.8L322.7 297.0L323.0 290.7L323.3 285.9L323.6 286.6L323.9 288.0L324.2 289.1L324.5 292.0L324.8 296.2L325.0 300.8L325.3 304.8L325.6 310.3L325.9 314.5L326.2 311.3L326.5 300.5L326.8 288.8L327.1 284.0L327.4 289.6L327.7 300.7L328.0 308.9L328.3 308.9L328.6 302.0L328.9 296.9L329.2 296.5L329.5 299.1L329.8 300.6L330.1 299.8L330.4 298.6L330.7 299.6L331.0 298.3L331.3 301.9L331.6 302.6L331.9 299.3L332.2 294.7L332.5 292.0L332.8 291.4L333.1 289.0L333.4 288.4L333.7 293.1L334.0 302.5L334.3 311.8L334.6 315.0L334.9 307.8L335.2 293.3L335.5 282.3L335.8 279.7L336.1 282.2L336.4 288.7L336.7 296.9L337.0 304.2L337.3 307.9L337.6 307.0L337.9 302.8L338.2 297.2L338.5 292.2L338.8 289.5L339.1 291.0L339.4 294.9L339.7 298.7L340.0 300.6L340.3 300.3L340.6 298.7L340.9 296.7L341.2 292.8L341.5 287.0L341.8 285.6L342.1 289.3L342.4 294.7L342.7 300.1L343.0 303.6L343.3 302.4L343.6 297.6L343.9 292.7L344.2 289.8L344.5 289.6L344.8 292.8L345.1 297.6L345.4 302.7L345.7 306.9L346.0 309.2L346.3 309.2L346.5 306.8L346.8 302.3L347.1 296.8L347.4 291.9L347.7 289.0L348.0 288.8L348.3 291.1L348.6 295.1L348.9 299.6L349.2 303.3L349.5 304.8L349.8 303.2L350.1 297.8L350.4 292.5L350.7 290.6L351.0 291.5L351.3 294.7L351.6 300.1L351.9 305.2L352.2 306.7L352.5 303.8L352.8 298.7L353.1 293.5L353.4 290.5L353.7 290.3L354.0 293.0L354.3 298.0L354.6 302.9L354.9 304.8L355.2 303.3L355.5 299.5L355.8 295.1L356.1 291.8L356.4 291.0L356.7 293.2L357.0 297.0L357.3 300.2L357.6 301.0L357.9 298.8L358.2 295.8L358.5 294.9L358.8 296.2L359.1 298.4L359.4 299.5L359.7 298.4L360.0 296.3L360.3 294.4L360.6 293.6L360.9 294.0L361.2 295.3L361.5 296.9L361.8 298.4L362.1 299.3L362.4 298.9L362.7 297.5L363.0 295.7L363.3 294.2L363.6 294.0L363.9 295.3L364.2 297.2L364.5 299.0L364.8 300.3L365.1 300.7L365.4 300.4L365.7 299.5L366.0 298.3L366.3 296.8L366.6 295.6L366.9 295.2L367.2 295.4L367.5 296.0L367.8 297.4L368.0 299.7L368.3 300.6L368.6 299.2L368.9 296.4L369.2 294.2L369.5 294.3L369.8 296.7L370.1 299.9L370.4 302.0L370.7 302.0L371.0 300.0L371.3 297.1L371.6 294.8L371.9 293.8L372.2 294.2L372.5 295.8L372.8 297.7L373.1 299.4L373.4 300.2L373.7 299.7L374.0 298.3L374.3 295.6L374.6 293.2L374.9 294.6L375.2 298.0L375.5 299.7L375.8 300.3L376.1 299.9L376.4 298.6L376.7 296.7L377.0 295.0L377.3 294.0L377.6 294.1L377.9 295.2L378.2 297.1L378.5 299.3L378.8 301.1L379.1 301.3L379.4 299.5L379.7 297.4L380.0 296.6L380.3 296.1L380.6 295.9L380.9 296.0L381.2 296.4L381.5 297.1L381.8 298.6L382.1 299.5L382.4 298.6L382.7 297.0L383.0 295.3L383.3 294.1L383.6 293.6L383.9 293.9L384.2 294.9L384.5 296.3L384.8 297.7L385.1 298.9L385.4 299.3L385.7 298.6L386.0 297.3L386.3 296.2L386.6 295.8L386.9 296.2L387.2 297.1L387.5 297.6L387.8 297.4L388.1 296.6L388.4 296.5L388.7 297.2L389.0 297.6L389.2 297.6L389.5 297.4L389.8 297.5L390.1 297.9L390.4 298.1L390.7 297.9L391.0 297.3L391.3 296.7L391.6 296.5L391.9 296.8L392.2 297.6L392.5 298.6L392.8 299.0L393.1 298.8L393.4 298.4L393.7 298.0L394.0 297.7L394.3 297.5L394.6 297.6L394.9 297.7L395.2 298.1L395.5 298.5L395.8 298.9L396.1 299.1L396.4 298.9L396.7 298.4L397.0 297.5L397.3 296.7L397.6 296.2L397.9 296.3L398.2 296.9L398.5 298.1L398.8 299.4L399.1 300.0L399.4 299.3L399.7 297.8L400.0 296.0L400.3 294.5L400.6 293.7L400.9 294.4L401.2 296.6L401.5 299.3L401.8 301.1L402.1 301.1L402.4 299.4L402.7 297.1L403.0 295.6L403.3 294.9L403.6 294.9L403.9 295.6L404.2 296.9L404.5 298.4L404.8 299.6L405.1 300.1L405.4 299.8L405.7 298.8L406.0 297.3L406.3 295.9L406.6 294.7L406.9 294.2L407.2 294.5L407.5 295.7L407.8 298.0L408.1 300.6L408.4 301.7L408.7 300.9L409.0 299.2L409.3 297.3L409.6 296.0L409.9 295.5L410.2 295.8L410.5 296.2L410.7 296.4L411.0 295.9L411.3 295.6L411.6 296.1L411.9 297.1L412.2 298.1L412.5 298.8L412.8 298.9L413.1 298.5L413.4 297.8L413.7 296.9L414.0 296.3L414.3 295.9L414.6 295.9L414.9 296.3L415.2 296.9L415.5 297.5L415.8 298.0L416.1 298.4L416.4 298.4L416.7 298.2L417.0 297.6L417.3 297.0L417.6 296.4L417.9 296.5L418.2 297.1L418.5 297.8L418.8 298.7L419.1 299.1L419.4 299.0L419.7 298.2L420.0 297.3L420.3 296.4L420.6 296.0L420.9 296.5L421.2 297.4L421.5 298.3L421.8 299.2L422.1 299.7L422.4 299.5L422.7 298.4L423.0 296.9L423.3 295.6L423.6 294.9L423.9 295.0L424.2 296.1L424.5 298.1L424.8 299.9L425.1 300.6L425.4 300.6L425.7 299.5L426.0 297.0L426.3 294.8L426.6 294.2L426.9 295.1L427.2 296.9L427.5 298.7L427.8 299.6L428.1 299.8L428.4 299.2L428.7 298.0L429.0 296.8L429.3 295.6L429.6 294.9L429.9 295.4L430.2 296.9L430.5 298.2L430.8 298.2L431.1 297.4L431.4 296.6L431.7 296.5L432.0 297.3L432.2 298.5L432.5 299.1L432.8 298.6L433.1 297.7L433.4 297.0L433.7 296.3L434.0 296.0L434.3 296.4L434.6 297.1L434.9 297.8L435.2 298.4L435.5 298.3L435.8 297.9L436.1 297.7L436.4 297.9L436.7 298.2L437.0 298.4L437.3 298.3L437.6 297.7L437.9 297.0L438.2 296.4L438.5 296.1L438.8 296.1L439.1 296.4L439.4 297.1L439.7 297.8L440.0 298.5L440.3 299.0L440.6 299.0L440.9 298.2L441.2 297.4L441.5 297.0L441.8 296.8L442.1 296.6L442.4 296.7L442.7 297.2L443.0 298.0L443.3 298.9L443.6 299.6L443.9 299.5L444.2 298.9L444.5 297.9L444.8 296.9L445.1 296.3L445.4 296.1L445.7 296.4L446.0 297.1L446.3 297.7L446.6 298.3L446.9 298.6L447.2 298.7L447.5 298.5L447.8 298.0L448.1 297.4L448.4 296.8L448.7 296.4L449.0 296.3L449.3 296.5L449.6 297.2L449.9 298.1L450.2 298.7L450.5 298.6L450.8 297.9L451.1 297.2L451.4 296.7L451.7 296.7" fill="none" stroke="#0000ff" stroke-width="0.8" stroke-linejoin="round"/>
<path d="M283.8 269.0L284.1 406.6L284.4 303.0L284.7 316.6L285.0 304.7L285.3 315.7L285.6 306.4L285.9 314.0L286.2 309.8L286.5 316.6L286.8 314.9L287.1 316.1L287.4 315.9L295.8 315.9L296.1 315.8L296.4 315.7L296.7 315.7L297.0 316.0L297.3 316.0L297.6 315.9L297.9 315.7L298.2 315.5L298.5 315.6L298.8 316.0L299.1 316.1L299.4 315.5L299.7 315.1L300.0 315.2L300.3 315.8L300.6 316.5L300.9 316.8L301.2 315.9L301.5 314.1L301.8 314.7L302.1 316.5L302.4 317.6L302.7 317.1L303.0 315.8L303.3 315.5L303.5 316.8L303.8 318.1L304.1 318.2L304.4 317.1L304.7 315.4L305.0 314.0L305.3 313.6L305.6 314.5L305.9 316.6L306.2 318.5L306.5 319.1L306.8 316.2L307.1 314.2L307.4 316.8L307.7 319.5L308.0 317.6L308.3 313.8L308.6 314.5L308.9 319.0L309.2 321.1L309.5 319.3L309.8 315.8L310.1 312.6L310.4 311.5L310.7 315.0L311.0 319.7L311.3 319.6L311.6 316.1L311.9 312.6L312.2 311.9L312.5 313.6L312.8 316.6L313.1 319.1L313.4 320.0L313.7 318.1L314.0 315.4L314.3 314.9L314.6 316.0L314.9 317.2L315.2 317.0L315.5 315.0L315.8 313.7L316.1 315.2L316.4 318.1L316.7 318.6L317.0 314.8L317.3 310.8L317.6 310.9L317.9 313.6L318.2 316.7L318.5 317.9L318.8 317.1L319.1 315.7L319.4 314.6L319.7 314.6L320.0 315.9L320.3 318.0L320.6 319.8L320.9 320.7L321.2 319.2L321.5 315.5L321.8 312.3L322.1 312.1L322.4 316.5L322.7 317.9L323.0 314.2L323.3 311.3L323.6 312.7L323.9 316.5L324.2 320.1L324.5 321.0L324.8 319.1L325.0 315.3L325.3 311.7L325.6 309.9L325.9 311.5L326.2 315.7L326.5 317.5L326.8 316.4L327.1 314.1L327.4 312.2L327.7 311.8L328.0 313.5L328.3 316.3L328.6 318.5L328.9 318.4L329.2 315.0L329.5 311.9L329.8 313.0L330.1 316.8L330.4 317.6L330.7 315.8L331.0 313.5L331.3 313.1L331.6 315.8L331.9 318.2L332.2 316.3L332.5 312.5L332.8 312.6L333.1 314.5L333.4 316.9L333.7 318.3L334.0 318.0L334.3 316.6L334.6 314.6L334.9 313.2L335.2 313.0L335.5 313.6L335.8 314.7L336.1 315.7L336.4 316.3L336.7 316.0L337.0 315.0L337.3 314.7L337.6 315.2L337.9 316.0L338.2 316.3L338.5 315.8L338.8 315.0L339.1 314.9L339.4 315.5L339.7 316.0L340.0 315.9L340.3 315.1L340.6 314.0L340.9 313.4L341.2 313.4L341.5 314.0L341.8 314.8L342.1 315.5L342.4 315.8L342.7 315.4L343.0 314.5L343.3 314.3L343.6 315.1L343.9 316.1L344.2 316.3L344.5 316.0L344.8 315.5L345.1 314.9L345.4 314.5L345.7 314.4L346.0 314.8L346.3 315.8L346.5 316.6L346.8 316.8L347.1 316.5L347.4 316.0L347.7 315.4L348.0 315.0L348.3 314.9L348.6 315.0L348.9 315.3L349.2 315.6L349.5 315.8L349.8 315.9L350.1 315.9L350.4 315.7L350.7 315.5L351.0 315.2L351.3 315.1L351.6 315.0L351.9 315.1L352.2 315.4L352.5 315.7L352.8 316.1L353.1 316.2L353.4 316.2L353.7 316.0L354.0 315.6L354.3 315.2L354.6 314.9L354.9 314.8L355.2 314.9L355.5 315.1L355.8 315.4L356.1 315.6L356.4 315.6L356.7 315.1L357.0 314.3L357.3 314.0L357.6 314.2L357.9 314.6L358.2 315.1L358.5 315.6L358.8 315.9L359.1 316.0L359.4 315.8L359.7 315.5L360.0 315.1L360.3 314.7L360.6 314.5L360.9 314.5L361.2 314.7L361.5 315.2L361.8 315.7L362.1 316.0L362.4 316.1L362.7 315.8L363.0 315.5L363.3 315.0L363.6 314.7L363.9 314.6L364.2 314.7L364.5 315.0L364.8 315.3L365.1 315.6L365.4 315.6L365.7 315.5L366.0 315.2L366.3 314.9L366.6 314.8L366.9 315.2L367.2 315.8L367.5 316.1L367.8 315.9L368.0 315.3L368.3 314.7L368.6 314.5L368.9 314.6L369.2 314.9L369.5 315.2L369.8 315.4L370.1 315.6L370.4 315.7L370.7 315.6L371.0 315.4L371.3 315.2L371.6 315.0L371.9 314.9L372.2 314.9L372.5 315.1L372.8 315.4L373.1 315.7L373.4 315.9L373.7 315.9L374.0 315.7L374.3 315.3L374.6 315.0L374.9 314.9L375.2 315.0L375.5 315.3L376.1 315.3L376.4 315.2L376.7 315.0L377.0 314.9L377.3 314.8L377.6 314.7L377.9 314.8L378.2 315.0L378.5 315.2L379.1 315.2L379.4 315.0L379.7 314.8L380.0 314.6L380.3 314.6L380.6 314.7L380.9 315.0L381.2 315.3L381.5 315.6L381.8 315.7L382.1 315.7L382.4 315.6L382.7 315.3L383.0 315.0L383.3 314.8L383.6 314.7L383.9 314.7L384.2 314.9L384.5 315.1L384.8 315.3L385.1 315.4L385.4 315.4L385.7 315.3L386.0 315.2L386.3 315.1L386.6 314.9L386.9 314.9L387.2 315.0L387.5 315.1L387.8 315.3L388.1 315.3L388.4 315.2L388.7 315.0L389.0 314.8L389.2 314.7L389.5 314.7L389.8 314.8L390.1 315.1L390.4 315.3L390.7 315.5L391.0 315.6L391.3 315.5L391.6 315.3L391.9 314.9L392.2 314.7L392.5 314.7L392.8 314.9L393.1 315.3L393.4 315.6L393.7 315.7L394.0 315.5L394.3 315.1L394.6 314.7L394.9 314.5L395.2 314.7L395.5 315.1L395.8 315.4L396.1 315.4L396.4 315.3L396.7 315.1L397.0 314.9L397.3 314.7L397.6 314.5L398.2 314.5L398.5 314.7L398.8 314.9L399.1 315.1L399.4 315.2L399.7 315.3L400.0 315.3L400.3 315.2L400.6 315.0L400.9 314.9L401.2 314.8L401.5 314.8L401.8 314.9L402.1 315.0L402.4 315.2L402.7 315.2L403.0 315.1L403.3 315.0L403.6 314.7L403.9 314.5L404.2 314.4L404.5 314.3L404.8 314.4L405.1 314.7L405.4 315.0L405.7 315.2L406.0 315.1L406.3 314.8L406.6 314.5L406.9 314.5L407.2 314.6L407.5 314.9L407.8 315.1L408.1 315.2L408.4 315.1L408.7 315.0L409.0 314.9L409.3 314.8L409.6 314.7L409.9 314.7L410.2 314.8L410.5 314.9L410.7 315.0L411.0 315.1L411.3 315.3L411.9 315.3L412.2 315.1L412.5 314.7L412.8 314.3L413.1 314.1L413.4 314.1L413.7 314.2L414.0 314.4L414.3 314.6L414.6 314.8L414.9 314.9L415.2 315.0L415.5 314.9L415.8 314.7L416.1 314.4L416.4 314.2L416.7 314.1L417.0 314.2L417.3 314.3L417.6 314.6L417.9 314.8L418.2 314.9L418.5 314.9L418.8 314.8L419.1 314.7L419.4 314.6L419.7 314.5L420.0 314.4L420.6 314.4L420.9 314.5L421.2 314.7L421.5 314.8L421.8 315.0L422.1 315.1L422.4 315.0L422.7 314.9L423.0 314.8L423.3 314.6L423.6 314.5L423.9 314.4L424.2 314.3L424.5 314.4L424.8 314.6L425.1 314.7L425.4 314.9L425.7 315.1L426.3 315.1L426.6 315.0L426.9 314.9L427.2 314.7L427.5 314.6L427.8 314.5L428.1 314.5L428.4 314.6L428.7 314.9L429.0 315.0L429.3 314.9L429.6 314.6L429.9 314.2L430.2 314.0L430.5 314.1L430.8 314.3L431.1 314.5L431.4 314.7L431.7 314.8L432.0 314.8L432.2 314.7L432.5 314.6L432.8 314.4L433.1 314.3L433.4 314.2L433.7 314.1L434.0 314.2L434.3 314.4L434.6 314.7L434.9 315.0L435.2 315.1L435.5 315.1L435.8 314.9L436.1 314.6L436.4 314.5L437.3 314.5L437.6 314.6L439.1 314.6L439.4 314.5L439.7 314.5L440.0 314.4L440.3 314.3L440.9 314.3L441.2 314.4L441.5 314.6L441.8 314.7L442.1 314.8L442.4 314.8L442.7 314.7L443.0 314.6L443.3 314.4L443.6 314.3L443.9 314.2L444.5 314.2L444.8 314.3L445.1 314.4L445.4 314.5L445.7 314.6L446.0 314.7L446.3 314.8L446.6 314.8L446.9 314.7L447.2 314.6L447.5 314.4L447.8 314.2L448.4 314.2L448.7 314.3L449.0 314.4L449.3 314.6L449.6 314.7L449.9 314.7L450.2 314.6L450.5 314.4L450.8 314.2L451.1 314.0L451.4 313.9L451.7 313.9" fill="none" stroke="#ff0000" stroke-width="0.8" stroke-linejoin="round"/>
</g>
<rect x="275.45" y="211.25" width="184.60" height="169.85" fill="none" stroke="#111" stroke-width="1.1"/>
<line x1="271.95" y1="211.25" x2="275.45" y2="211.25" stroke="#111" stroke-width="1.0"/>
<line x1="271.95" y1="253.71" x2="275.45" y2="253.71" stroke="#111" stroke-width="1.0"/>
<line x1="271.95" y1="296.18" x2="275.45" y2="296.18" stroke="#111" stroke-width="1.0"/>
<line x1="271.95" y1="338.64" x2="275.45" y2="338.64" stroke="#111" stroke-width="1.0"/>
<line x1="271.95" y1="381.10" x2="275.45" y2="381.10" stroke="#111" stroke-width="1.0"/>
<line x1="283.84" y1="381.10" x2="283.84" y2="384.60" stroke="#111" stroke-width="1.0"/>
<text x="280.57" y="397.70" font-size="11.81" textLength="6.55" lengthAdjust="spacingAndGlyphs">0</text>
<line x1="343.56" y1="381.10" x2="343.56" y2="384.60" stroke="#111" stroke-width="1.0"/>
<text x="332.96" y="397.70" font-size="11.81" textLength="20.75" lengthAdjust="spacingAndGlyphs">100</text>
<line x1="403.28" y1="381.10" x2="403.28" y2="384.60" stroke="#111" stroke-width="1.0"/>
<text x="392.79" y="397.70" font-size="11.81" textLength="20.85" lengthAdjust="spacingAndGlyphs">200</text>
<text x="285.67" y="231.35" font-size="11.81" textLength="15.45" lengthAdjust="spacingAndGlyphs">(d)</text>
<text x="401.05" y="231.60" font-size="11.81" textLength="56.92" lengthAdjust="spacingAndGlyphs">0.021 deg</text>
<text x="389.57" y="231.60" font-size="11.81" textLength="9.38" lengthAdjust="spacingAndGlyphs">=</text>
<text x="376.41" y="233.20" font-size="8.27" textLength="9.88" lengthAdjust="spacingAndGlyphs" font-style="italic">ET</text>
<text x="352.05" y="231.60" font-size="11.81" textLength="24.51" lengthAdjust="spacingAndGlyphs">RMS</text>
<text x="401.05" y="248.10" font-size="11.81" textLength="56.92" lengthAdjust="spacingAndGlyphs">0.009 deg</text>
<text x="389.57" y="248.10" font-size="11.81" textLength="9.38" lengthAdjust="spacingAndGlyphs">=</text>
<text x="376.00" y="249.70" font-size="8.27" textLength="10.77" lengthAdjust="spacingAndGlyphs" font-style="italic">NT</text>
<text x="351.74" y="248.10" font-size="11.81" textLength="24.62" lengthAdjust="spacingAndGlyphs">RMS</text>
<text x="401.05" y="264.60" font-size="11.81" textLength="56.92" lengthAdjust="spacingAndGlyphs">0.233 deg</text>
<text x="389.57" y="264.60" font-size="11.81" textLength="9.38" lengthAdjust="spacingAndGlyphs">=</text>
<text x="376.62" y="266.20" font-size="8.27" textLength="10.88" lengthAdjust="spacingAndGlyphs" font-style="italic">TR</text>
<text x="352.23" y="264.60" font-size="11.81" textLength="25.04" lengthAdjust="spacingAndGlyphs">RMS</text>
<text x="336.19" y="360.85" font-size="11.81" textLength="63.64" lengthAdjust="spacingAndGlyphs">ACC+GYRO</text>
<text x="315.98" y="373.50" font-size="11.81" textLength="106.82" lengthAdjust="spacingAndGlyphs">Tilts &amp; Torsion (M2)</text>
<line x1="496.90" y1="49.76" x2="681.50" y2="49.76" stroke="#bdbdbd" stroke-width="1.0"/>
<line x1="496.90" y1="92.23" x2="681.50" y2="92.23" stroke="#bdbdbd" stroke-width="1.0"/>
<line x1="496.90" y1="134.69" x2="681.50" y2="134.69" stroke="#bdbdbd" stroke-width="1.0"/>
<clipPath id="ce"><rect x="496.90" y="7.30" width="184.60" height="169.85"/></clipPath>
<g clip-path="url(#ce)">
<path d="M536.3 92.2L536.6 92.2L536.6 89.1L536.6 82.8L536.6 76.7L536.6 70.9L536.7 65.3L536.7 60.1L536.7 55.4L536.7 51.3L536.7 47.7L536.7 44.8L536.7 42.6L536.7 41.1L536.8 40.3L536.8 41.1L536.8 42.6L536.8 44.8L536.8 47.7L536.8 51.3L536.8 55.4L536.8 60.1L536.9 65.3L536.9 70.9L536.9 76.7L536.9 82.8L536.9 89.1L536.9 95.4L536.9 101.6L536.9 107.7L537.0 113.6L537.0 119.1L537.0 124.3L537.0 129.0L537.0 133.2L537.0 136.7L537.0 139.7L537.0 141.9L537.1 143.4L537.1 144.1L537.1 143.4L537.1 141.9L537.1 139.7L537.1 136.7L537.1 133.2L537.1 129.0L537.2 124.3L537.2 119.1L537.2 113.6L537.2 107.7L537.2 101.6L537.2 95.4L537.2 92.2L537.5 92.2" fill="none" stroke="#333" stroke-width="0.6" stroke-linejoin="round"/>
<path d="M505.3 92.2L535.4 92.2L535.4 90.1L535.4 86.0L535.4 82.0L535.5 78.1L535.5 74.5L535.5 71.2L535.5 68.3L535.5 65.7L535.5 63.7L535.5 62.1L535.5 61.0L535.5 60.4L535.6 60.4L535.6 61.0L535.6 62.1L535.6 63.7L535.6 65.7L535.6 68.3L535.6 71.2L535.6 74.5L535.7 78.1L535.7 82.0L535.7 86.0L535.7 90.1L535.7 94.3L535.7 98.4L535.7 102.5L535.7 106.3L535.7 109.9L535.8 113.2L535.8 116.2L535.8 118.7L535.8 120.8L535.8 122.4L535.8 123.5L535.8 124.0L535.9 123.5L535.9 122.4L535.9 120.8L535.9 118.7L535.9 116.2L535.9 113.2L535.9 109.9L535.9 106.3L536.0 102.5L536.0 98.4L536.0 94.3L536.0 92.2L673.1 92.2" fill="none" stroke="#4040ff" stroke-width="0.7" stroke-linejoin="round"/>
<path d="M505.3 92.2L524.7 92.2L525.0 90.7L525.3 90.1L525.6 90.5L525.9 90.9L526.2 91.0L535.0 91.0L535.0 89.6L535.0 88.3L535.0 87.0L535.0 85.8L535.0 84.7L535.1 83.7L535.1 82.8L535.1 82.0L535.1 81.3L535.1 80.9L535.1 80.5L535.1 80.4L535.2 80.5L535.2 80.9L535.2 81.3L535.2 82.0L535.2 82.8L535.2 83.7L535.2 84.7L535.2 85.8L535.2 87.0L535.3 88.3L535.3 89.6L535.3 91.0L535.3 92.3L535.3 93.6L535.3 94.9L535.3 96.1L535.3 97.2L535.4 98.2L535.4 99.1L535.4 99.9L535.4 100.6L535.4 101.0L535.4 101.4L535.4 101.5L535.5 101.4L535.5 101.0L535.5 100.6L535.5 99.9L535.5 99.1L535.5 98.2L535.5 97.2L535.5 96.1L535.5 94.9L535.6 93.6L535.6 92.3L535.6 91.0L673.1 91.0" fill="none" stroke="#ff5050" stroke-width="0.9" stroke-linejoin="round"/>
<path d="M505.3 92.2L524.7 92.2L525.0 90.7" fill="none" stroke="#e8203c" stroke-width="0.9" stroke-linejoin="round"/>
<path d="M534.8 91.0L535.0 91.0L535.0 89.6L535.0 88.3L535.0 87.0L535.0 85.8L535.0 84.7L535.1 83.7L535.1 82.8L535.1 82.0L535.1 81.3L535.1 80.9L535.1 80.5L535.1 80.4L535.2 80.5L535.2 80.9L535.2 81.3L535.2 82.0L535.2 82.8L535.2 83.7L535.2 84.7L535.2 85.8L535.2 87.0L535.3 88.3L535.3 89.6L535.3 91.0L535.3 92.3L535.3 93.6L535.3 94.9L535.3 96.1L535.3 97.2L535.4 98.2L535.4 99.1L535.4 99.9L535.4 100.6L535.4 101.0L535.4 101.4L535.4 101.5L535.5 101.4L535.5 101.0L535.5 100.6L535.5 99.9L535.5 99.1L535.5 98.2L535.5 97.2L535.5 96.1L535.5 94.9L535.6 93.6L535.6 92.3L535.6 91.0L535.7 91.0" fill="none" stroke="#ff0000" stroke-width="0.7" stroke-linejoin="round"/>
</g>
<rect x="496.90" y="7.30" width="184.60" height="169.85" fill="none" stroke="#111" stroke-width="1.1"/>
<line x1="493.40" y1="7.30" x2="496.90" y2="7.30" stroke="#111" stroke-width="1.0"/>
<line x1="493.40" y1="49.76" x2="496.90" y2="49.76" stroke="#111" stroke-width="1.0"/>
<line x1="493.40" y1="92.23" x2="496.90" y2="92.23" stroke="#111" stroke-width="1.0"/>
<line x1="493.40" y1="134.69" x2="496.90" y2="134.69" stroke="#111" stroke-width="1.0"/>
<line x1="493.40" y1="177.15" x2="496.90" y2="177.15" stroke="#111" stroke-width="1.0"/>
<line x1="505.29" y1="177.15" x2="505.29" y2="180.65" stroke="#111" stroke-width="1.0"/>
<text x="502.02" y="193.75" font-size="11.81" textLength="6.55" lengthAdjust="spacingAndGlyphs">0</text>
<line x1="565.01" y1="177.15" x2="565.01" y2="180.65" stroke="#111" stroke-width="1.0"/>
<text x="554.41" y="193.75" font-size="11.81" textLength="20.75" lengthAdjust="spacingAndGlyphs">100</text>
<line x1="624.73" y1="177.15" x2="624.73" y2="180.65" stroke="#111" stroke-width="1.0"/>
<text x="614.24" y="193.75" font-size="11.81" textLength="20.85" lengthAdjust="spacingAndGlyphs">200</text>
<rect x="532.17" y="33.84" width="8.96" height="116.77" fill="none" stroke="#888" stroke-width="1.0"/>
<line x1="532.17" y1="33.84" x2="579.90" y2="96.60" stroke="#888" stroke-width="1.0"/>
<line x1="532.17" y1="150.61" x2="579.90" y2="129.00" stroke="#888" stroke-width="1.0"/>
<rect x="579.90" y="96.60" width="92.20" height="32.40" fill="#fff" stroke="none"/>
<clipPath id="cei"><rect x="579.90" y="96.60" width="92.20" height="32.40"/></clipPath>
<g clip-path="url(#cei)">
<path d="M622.9 112.8L622.9 112.8L623.0 112.8L623.2 112.8L623.3 112.8L623.4 112.8L623.5 112.8L623.7 112.8L623.8 112.8L623.9 112.8L624.0 112.8L624.2 112.8L624.3 112.8L624.4 112.8L624.5 112.8L624.6 112.8L624.8 112.8L624.9 112.8L625.0 112.8L625.1 112.8L625.3 112.8L625.4 112.8L625.5 112.8L625.6 111.9L625.8 110.2L625.9 108.5L626.0 106.9L626.0 106.9L626.1 105.3L626.2 103.9L626.4 102.6L626.5 101.4L626.6 100.4L626.7 99.6L626.9 99.0L627.0 98.6L627.1 98.4L627.2 98.4L627.4 98.6L627.5 99.0L627.6 99.6L627.7 100.4L627.8 101.4L628.0 102.6L628.1 103.9L628.2 105.3L628.3 106.9L628.5 108.5L628.6 110.2L628.7 111.9L628.8 113.7L629.0 115.4L629.1 117.1L629.1 117.1L629.2 118.7L629.3 120.3L629.4 121.7L629.6 123.0L629.7 124.2L629.8 125.2L629.9 126.0L630.1 126.6L630.2 127.0L630.3 127.2L630.4 127.2L630.5 127.0L630.7 126.6L630.8 126.0L630.9 125.2L631.0 124.2L631.2 123.0L631.3 121.7L631.4 120.3L631.5 118.7L631.7 117.1L631.8 115.4L631.9 113.7L632.0 112.8L632.1 112.8L632.1 112.8L632.3 112.8L632.4 112.8L632.5 112.8L632.6 112.8L632.8 112.8L632.9 112.8L633.0 112.8L633.1 112.8L633.3 112.8L633.4 112.8L633.5 112.8L633.6 112.8L633.7 112.8L633.9 112.8L634.0 112.8L634.1 112.8L634.2 112.8L634.4 112.8L634.5 112.8L634.6 112.8L634.7 112.8L634.9 112.8L635.0 112.8L635.1 112.8L635.2 112.8" fill="none" stroke="#3a3a3a" stroke-width="0.8" stroke-linejoin="round"/>
<path d="M576.8 112.8L579.9 112.8L583.0 112.8L586.0 112.8L589.1 112.8L592.2 112.8L595.3 112.8L598.3 112.8L601.4 112.8L604.5 112.8L604.6 112.8L604.7 112.8L604.9 112.8L605.0 112.8L605.1 112.8L605.2 112.8L605.3 112.8L605.5 112.8L605.6 112.8L605.7 112.8L605.8 112.8L606.0 112.8L606.1 112.8L606.2 112.8L606.3 112.8L606.5 112.8L606.6 112.8L606.7 112.8L606.8 112.8L606.9 112.8L607.1 112.8L607.2 112.8L607.3 112.8L607.4 112.8L607.6 112.8L607.6 112.8L607.7 112.8L607.8 112.8L607.9 112.8L608.1 112.8L608.2 112.8L608.3 112.8L608.4 112.8L608.5 112.8L608.7 112.8L608.8 112.8L608.9 112.8L609.0 112.8L609.2 112.8L609.3 112.8L609.4 112.8L609.5 112.8L609.6 112.8L609.8 112.8L609.9 112.8L610.0 112.8L610.1 112.8L610.3 112.8L610.4 112.8L610.5 112.8L610.6 112.8L610.6 112.8L610.8 112.8L610.9 112.8L611.0 112.8L611.1 112.8L611.2 112.8L611.4 112.8L611.5 112.8L611.6 112.8L611.7 112.8L611.9 112.8L612.0 112.8L612.1 112.8L612.2 112.8L612.4 112.8L612.5 112.8L612.6 112.8L612.7 112.8L612.8 112.8L613.0 112.8L613.1 112.8L613.2 112.8L613.3 112.2L613.5 111.1L613.6 110.0L613.7 108.9L613.7 108.9L613.8 107.9L614.0 107.0L614.1 106.2L614.2 105.5L614.3 104.9L614.4 104.4L614.6 104.1L614.7 104.0L614.8 104.0L614.9 104.1L615.1 104.4L615.2 104.9L615.3 105.5L615.4 106.2L615.6 107.0L615.7 107.9L615.8 108.9L615.9 110.0L616.0 111.1L616.2 112.2L616.3 113.4L616.4 114.5L616.5 115.6L616.7 116.7L616.8 117.7L616.8 117.7L616.9 118.6L617.0 119.4L617.1 120.1L617.3 120.7L617.4 121.2L617.5 121.5L617.6 121.6L617.8 121.6L617.9 121.5L618.0 121.2L618.1 120.7L618.3 120.1L618.4 119.4L618.5 118.6L618.6 117.7L618.7 116.7L618.9 115.6L619.0 114.5L619.1 113.4L619.2 112.8L619.4 112.8L619.5 112.8L619.6 112.8L619.7 112.8L619.9 112.8L619.9 112.8L620.0 112.8L620.1 112.8L620.2 112.8L620.3 112.8L620.5 112.8L620.6 112.8L620.7 112.8L620.8 112.8L621.0 112.8L621.1 112.8L621.2 112.8L621.3 112.8L621.5 112.8L621.6 112.8L621.7 112.8L621.8 112.8L621.9 112.8L622.1 112.8L622.2 112.8L622.3 112.8L622.4 112.8L622.6 112.8L622.7 112.8L622.8 112.8L622.9 112.8L622.9 112.8L623.0 112.8L623.2 112.8L623.3 112.8L623.4 112.8L623.5 112.8L623.7 112.8L623.8 112.8L623.9 112.8L624.0 112.8L624.2 112.8L624.3 112.8L624.4 112.8L624.5 112.8L624.6 112.8L624.8 112.8L624.9 112.8L625.0 112.8L625.1 112.8L625.3 112.8L625.4 112.8L625.5 112.8L625.6 112.8L625.8 112.8L625.9 112.8L626.0 112.8L626.0 112.8L626.1 112.8L626.2 112.8L626.4 112.8L626.5 112.8L626.6 112.8L626.7 112.8L626.9 112.8L627.0 112.8L627.1 112.8L627.2 112.8L627.4 112.8L627.5 112.8L627.6 112.8L627.7 112.8L627.8 112.8L628.0 112.8L628.1 112.8L628.2 112.8L628.3 112.8L628.5 112.8L628.6 112.8L628.7 112.8L628.8 112.8L629.0 112.8L629.1 112.8L629.1 112.8L629.2 112.8L629.3 112.8L629.4 112.8L629.6 112.8L629.7 112.8L629.8 112.8L629.9 112.8L630.1 112.8L630.2 112.8L630.3 112.8L630.4 112.8L630.5 112.8L630.7 112.8L630.8 112.8L630.9 112.8L631.0 112.8L631.2 112.8L631.3 112.8L631.4 112.8L631.5 112.8L631.7 112.8L631.8 112.8L631.9 112.8L632.0 112.8L632.1 112.8L632.1 112.8L632.3 112.8L632.4 112.8L632.5 112.8L632.6 112.8L632.8 112.8L632.9 112.8L633.0 112.8L633.1 112.8L633.3 112.8L633.4 112.8L633.5 112.8L633.6 112.8L633.7 112.8L633.9 112.8L634.0 112.8L634.1 112.8L634.2 112.8L634.4 112.8L634.5 112.8L634.6 112.8L634.7 112.8L634.9 112.8L635.0 112.8L635.1 112.8L635.2 112.8L635.2 112.8L635.3 112.8L635.5 112.8L635.6 112.8L635.7 112.8L635.8 112.8L636.0 112.8L636.1 112.8L636.2 112.8L636.3 112.8L636.4 112.8L636.6 112.8L636.7 112.8L636.8 112.8L636.9 112.8L637.1 112.8L637.2 112.8L637.3 112.8L637.4 112.8L637.6 112.8L637.7 112.8L637.8 112.8L637.9 112.8L638.0 112.8L638.2 112.8L638.3 112.8L641.4 112.8L644.4 112.8L647.5 112.8L650.6 112.8L653.7 112.8L656.7 112.8L659.8 112.8L662.9 112.8L666.0 112.8L669.0 112.8L672.1 112.8L675.2 112.8" fill="none" stroke="#0000ff" stroke-width="0.9" stroke-linejoin="round"/>
<path d="M576.8 112.4L579.9 112.4L583.0 112.4L586.0 112.4L589.1 112.4L592.2 112.4L595.3 112.4L598.3 112.4L601.4 112.4L604.5 112.4L604.6 112.4L604.7 112.4L604.9 112.4L605.0 112.4L605.1 112.4L605.2 112.4L605.3 112.4L605.5 112.4L605.6 112.4L605.7 112.4L605.8 112.4L606.0 112.4L606.1 112.4L606.2 112.4L606.3 112.4L606.5 112.4L606.6 112.4L606.7 112.4L606.8 112.4L606.9 112.4L607.1 112.4L607.2 112.4L607.3 112.4L607.4 112.4L607.6 112.4L607.6 112.4L607.7 112.4L607.8 112.4L607.9 112.4L608.1 112.4L608.2 112.4L608.3 112.4L608.4 112.4L608.5 112.4L608.7 112.4L608.8 112.4L608.9 112.4L609.0 112.1L609.2 111.7L609.3 111.4L609.4 111.0L609.5 110.7L609.6 110.4L609.8 110.2L609.9 110.0L610.0 109.8L610.1 109.6L610.3 109.6L610.4 109.5L610.5 109.5L610.6 109.6L610.6 109.6L610.8 109.6L610.9 109.8L611.0 110.0L611.1 110.2L611.2 110.4L611.4 110.7L611.5 111.0L611.6 111.4L611.7 111.7L611.9 112.1L612.0 112.4L612.1 112.8L612.2 113.2L612.4 113.5L612.5 113.9L612.6 114.2L612.7 114.5L612.8 114.7L613.0 114.9L613.1 115.1L613.2 115.2L613.3 115.3L613.5 115.4L613.6 115.4L613.7 115.3L613.7 115.3L613.8 115.2L614.0 115.1L614.1 114.9L614.2 114.7L614.3 114.5L614.4 114.2L614.6 113.9L614.7 113.5L614.8 113.2L614.9 112.8L615.1 112.4L615.2 112.4L615.3 112.4L615.4 112.4L615.6 112.4L615.7 112.4L615.8 112.4L615.9 112.4L616.0 112.4L616.2 112.4L616.3 112.4L616.4 112.4L616.5 112.4L616.7 112.4L616.8 112.4L616.8 112.4L616.9 112.4L617.0 112.4L617.1 112.4L617.3 112.4L617.4 112.4L617.5 112.4L617.6 112.4L617.8 112.4L617.9 112.4L618.0 112.4L618.1 112.4L618.3 112.4L618.4 112.4L618.5 112.4L618.6 112.4L618.7 112.4L618.9 112.4L619.0 112.4L619.1 112.4L619.2 112.4L619.4 112.4L619.5 112.4L619.6 112.4L619.7 112.4L619.9 112.4L619.9 112.4L620.0 112.4L620.1 112.4L620.2 112.4L620.3 112.4L620.5 112.4L620.6 112.4L620.7 112.4L620.8 112.4L621.0 112.4L621.1 112.4L621.2 112.4L621.3 112.4L621.5 112.4L621.6 112.4L621.7 112.4L621.8 112.4L621.9 112.4L622.1 112.4L622.2 112.4L622.3 112.4L622.4 112.4L622.6 112.4L622.7 112.4L622.8 112.4L622.9 112.4L622.9 112.4L623.0 112.4L623.2 112.4L623.3 112.4L623.4 112.4L623.5 112.4L623.7 112.4L623.8 112.4L623.9 112.4L624.0 112.4L624.2 112.4L624.3 112.4L624.4 112.4L624.5 112.4L624.6 112.4L624.8 112.4L624.9 112.4L625.0 112.4L625.1 112.4L625.3 112.4L625.4 112.4L625.5 112.4L625.6 112.4L625.8 112.4L625.9 112.4L626.0 112.4L626.0 112.4L626.1 112.4L626.2 112.4L626.4 112.4L626.5 112.4L626.6 112.4L626.7 112.4L626.9 112.4L627.0 112.4L627.1 112.4L627.2 112.4L627.4 112.4L627.5 112.4L627.6 112.4L627.7 112.4L627.8 112.4L628.0 112.4L628.1 112.4L628.2 112.4L628.3 112.4L628.5 112.4L628.6 112.4L628.7 112.4L628.8 112.4L629.0 112.4L629.1 112.4L629.1 112.4L629.2 112.4L629.3 112.4L629.4 112.4L629.6 112.4L629.7 112.4L629.8 112.4L629.9 112.4L630.1 112.4L630.2 112.4L630.3 112.4L630.4 112.4L630.5 112.4L630.7 112.4L630.8 112.4L630.9 112.4L631.0 112.4L631.2 112.4L631.3 112.4L631.4 112.4L631.5 112.4L631.7 112.4L631.8 112.4L631.9 112.4L632.0 112.4L632.1 112.4L632.1 112.4L632.3 112.4L632.4 112.4L632.5 112.4L632.6 112.4L632.8 112.4L632.9 112.4L633.0 112.4L633.1 112.4L633.3 112.4L633.4 112.4L633.5 112.4L633.6 112.4L633.7 112.4L633.9 112.4L634.0 112.4L634.1 112.4L634.2 112.4L634.4 112.4L634.5 112.4L634.6 112.4L634.7 112.4L634.9 112.4L635.0 112.4L635.1 112.4L635.2 112.4L635.2 112.4L635.3 112.4L635.5 112.4L635.6 112.4L635.7 112.4L635.8 112.4L636.0 112.4L636.1 112.4L636.2 112.4L636.3 112.4L636.4 112.4L636.6 112.4L636.7 112.4L636.8 112.4L636.9 112.4L637.1 112.4L637.2 112.4L637.3 112.4L637.4 112.4L637.6 112.4L637.7 112.4L637.8 112.4L637.9 112.4L638.0 112.4L638.2 112.4L638.3 112.4L641.4 112.4L644.4 112.4L647.5 112.4L650.6 112.4L653.7 112.4L656.7 112.4L659.8 112.4L662.9 112.4L666.0 112.4L669.0 112.4L672.1 112.4L675.2 112.4" fill="none" stroke="#f04060" stroke-width="1.3" stroke-linejoin="round"/>
</g>
<rect x="579.90" y="96.60" width="92.20" height="32.40" fill="none" stroke="#111" stroke-width="1.1"/>
<line x1="576.40" y1="103.96" x2="579.90" y2="103.96" stroke="#111" stroke-width="1.0"/>
<text x="555.28" y="108.01" font-size="11.81" textLength="17.16" lengthAdjust="spacingAndGlyphs">0.3</text>
<line x1="576.40" y1="112.80" x2="579.90" y2="112.80" stroke="#111" stroke-width="1.0"/>
<text x="555.14" y="116.85" font-size="11.81" textLength="17.25" lengthAdjust="spacingAndGlyphs">0.0</text>
<line x1="576.40" y1="121.64" x2="579.90" y2="121.64" stroke="#111" stroke-width="1.0"/>
<text x="546.21" y="125.69" font-size="11.81" textLength="26.27" lengthAdjust="spacingAndGlyphs">−0.3</text>
<line x1="579.90" y1="129.00" x2="579.90" y2="132.50" stroke="#111" stroke-width="1.0"/>
<text x="573.27" y="145.10" font-size="11.81" textLength="13.50" lengthAdjust="spacingAndGlyphs">45</text>
<line x1="610.63" y1="129.00" x2="610.63" y2="132.50" stroke="#111" stroke-width="1.0"/>
<text x="603.85" y="145.10" font-size="11.81" textLength="13.56" lengthAdjust="spacingAndGlyphs">50</text>
<line x1="641.37" y1="129.00" x2="641.37" y2="132.50" stroke="#111" stroke-width="1.0"/>
<text x="634.70" y="145.10" font-size="11.81" textLength="13.36" lengthAdjust="spacingAndGlyphs">55</text>
<line x1="672.10" y1="129.00" x2="672.10" y2="132.50" stroke="#111" stroke-width="1.0"/>
<text x="665.13" y="145.10" font-size="11.81" textLength="13.80" lengthAdjust="spacingAndGlyphs">60</text>
<text x="507.13" y="27.40" font-size="11.81" textLength="15.20" lengthAdjust="spacingAndGlyphs">(e)</text>
<text x="622.50" y="27.65" font-size="11.81" textLength="56.92" lengthAdjust="spacingAndGlyphs">0.000 deg</text>
<text x="611.02" y="27.65" font-size="11.81" textLength="9.38" lengthAdjust="spacingAndGlyphs">=</text>
<text x="597.86" y="29.25" font-size="8.27" textLength="9.88" lengthAdjust="spacingAndGlyphs" font-style="italic">ET</text>
<text x="573.50" y="27.65" font-size="11.81" textLength="24.51" lengthAdjust="spacingAndGlyphs">RMS</text>
<text x="622.50" y="44.15" font-size="11.81" textLength="56.92" lengthAdjust="spacingAndGlyphs">0.000 deg</text>
<text x="611.02" y="44.15" font-size="11.81" textLength="9.38" lengthAdjust="spacingAndGlyphs">=</text>
<text x="597.45" y="45.75" font-size="8.27" textLength="10.77" lengthAdjust="spacingAndGlyphs" font-style="italic">NT</text>
<text x="573.19" y="44.15" font-size="11.81" textLength="24.62" lengthAdjust="spacingAndGlyphs">RMS</text>
<text x="622.50" y="60.65" font-size="11.81" textLength="56.92" lengthAdjust="spacingAndGlyphs">0.011 deg</text>
<text x="611.02" y="60.65" font-size="11.81" textLength="9.38" lengthAdjust="spacingAndGlyphs">=</text>
<text x="598.07" y="62.25" font-size="8.27" textLength="10.88" lengthAdjust="spacingAndGlyphs" font-style="italic">TR</text>
<text x="573.68" y="60.65" font-size="11.81" textLength="25.04" lengthAdjust="spacingAndGlyphs">RMS</text>
<text x="572.12" y="156.90" font-size="11.81" textLength="33.97" lengthAdjust="spacingAndGlyphs">INTEG</text>
<text x="537.43" y="169.55" font-size="11.81" textLength="106.82" lengthAdjust="spacingAndGlyphs">Tilts &amp; Torsion (M1)</text>
<line x1="496.90" y1="253.71" x2="681.50" y2="253.71" stroke="#bdbdbd" stroke-width="1.0"/>
<line x1="496.90" y1="296.18" x2="681.50" y2="296.18" stroke="#bdbdbd" stroke-width="1.0"/>
<line x1="496.90" y1="338.64" x2="681.50" y2="338.64" stroke="#bdbdbd" stroke-width="1.0"/>
<clipPath id="cf"><rect x="496.90" y="211.25" width="184.60" height="169.85"/></clipPath>
<g clip-path="url(#cf)">
<path d="M505.3 236.7L505.6 296.2L519.6 296.2L519.9 296.3L520.2 296.5L520.5 296.8L520.8 296.9L521.1 296.8L521.4 296.3L521.7 295.5L522.0 294.8L522.3 294.4L522.6 294.8L522.9 296.4L523.2 297.7L523.5 297.5L523.8 296.3L524.1 295.1L524.4 294.9L524.7 295.4L525.0 296.4L525.3 297.6L525.6 298.5L525.9 298.8L526.2 297.3L526.5 294.0L526.8 292.3L527.1 294.4L527.4 298.9L527.7 301.5L528.0 300.0L528.3 295.9L528.6 292.8L528.9 293.6L529.2 298.1L529.5 302.1L529.8 301.9L530.1 296.7L530.4 289.5L530.7 284.4L531.0 283.9L531.3 285.2L531.6 286.0L531.9 293.1L532.2 305.3L532.5 306.1L532.8 289.0L533.1 274.6L533.4 283.2L533.7 305.3L534.0 307.8L534.3 283.9L534.6 268.1L534.9 283.6L535.2 314.6L535.5 330.1L535.7 317.0L536.0 290.7L536.3 277.5L536.6 286.4L536.9 305.1L537.2 317.0L537.5 310.8L537.8 288.6L538.1 264.7L538.4 254.6L538.7 266.5L539.0 293.9L539.3 317.2L539.6 319.9L539.9 303.1L540.2 280.8L540.5 270.7L540.8 283.2L541.1 309.4L541.4 326.2L541.7 319.7L542.0 297.1L542.3 276.5L542.6 273.8L542.9 287.8L543.2 306.4L543.5 314.9L543.8 306.3L544.1 285.6L544.4 264.8L544.7 256.3L545.0 262.6L545.3 279.6L545.6 302.1L545.9 323.1L546.2 336.3L546.5 337.0L546.8 320.1L547.1 294.2L547.4 274.4L547.7 272.2L548.0 286.9L548.3 307.6L548.6 319.6L548.9 314.1L549.2 295.4L549.5 278.3L549.8 276.4L550.1 290.7L550.4 309.7L550.7 318.3L551.0 313.2L551.3 301.9L551.6 293.5L551.9 293.3L552.2 297.5L552.5 304.2L552.8 311.8L553.1 318.0L553.4 321.2L553.7 318.6L554.0 306.2L554.3 294.0L554.6 292.5L554.9 303.4L555.2 318.5L555.5 326.3L555.8 317.9L556.1 297.8L556.4 285.1L556.7 286.4L557.0 292.0L557.2 300.1L557.5 308.3L557.8 314.1L558.1 315.9L558.4 313.1L558.7 306.9L559.0 300.1L559.3 295.6L559.6 295.9L559.9 303.3L560.2 313.2L560.5 318.6L560.8 316.2L561.1 308.3L561.4 298.7L561.7 292.3L562.0 291.7L562.3 294.5L562.6 299.4L562.9 305.3L563.2 310.4L563.5 313.6L563.8 313.4L564.1 305.8L564.4 295.3L564.7 290.2L565.0 291.7L565.3 296.2L565.6 302.7L565.9 309.4L566.2 314.8L566.5 317.5L566.8 316.9L567.1 313.5L567.4 308.4L567.7 302.7L568.0 298.1L568.3 295.8L568.6 296.2L568.9 298.6L569.2 302.4L569.5 306.6L569.8 310.3L570.1 312.4L570.4 312.4L570.7 310.1L571.0 305.8L571.3 300.8L571.6 296.5L571.9 293.9L572.2 294.1L572.5 299.7L572.8 307.3L573.1 311.5L573.4 310.3L573.7 306.1L574.0 300.3L574.3 294.9L574.6 291.9L574.9 292.5L575.2 297.7L575.5 303.7L575.8 306.3L576.1 305.5L576.4 303.4L576.7 300.6L577.0 298.0L577.3 296.4L577.6 296.1L577.9 297.1L578.2 298.8L578.5 300.9L578.7 303.0L579.0 304.4L579.3 304.9L579.6 303.9L579.9 301.3L580.2 298.0L580.5 295.3L580.8 294.2L581.1 295.5L581.4 298.9L581.7 302.4L582.0 304.1L582.3 303.4L582.6 301.2L582.9 298.2L583.2 295.2L583.5 293.0L583.8 292.4L584.1 293.6L584.4 296.5L584.7 300.0L585.0 303.1L585.3 304.9L585.6 304.9L585.9 303.1L586.2 300.3L586.5 297.3L586.8 294.9L587.1 294.1L587.4 295.2L587.7 298.2L588.0 301.8L588.3 304.7L588.6 305.7L588.9 304.1L589.2 300.2L589.5 296.6L589.8 295.4L590.1 296.1L590.4 297.7L590.7 300.0L591.0 302.3L591.3 304.2L591.6 305.2L591.9 304.7L592.2 302.0L592.5 298.2L592.8 294.8L593.1 293.4L593.4 294.2L593.7 296.4L594.0 299.5L594.3 302.5L594.6 304.5L594.9 304.9L595.2 301.2L595.5 295.6L595.8 293.1L596.1 294.2L596.4 297.0L596.7 300.2L597.0 302.6L597.3 303.2L597.6 302.1L597.9 300.0L598.2 297.5L598.5 295.3L598.8 294.2L599.1 294.6L599.4 296.7L599.7 299.5L599.9 301.8L600.2 302.5L600.5 301.8L600.8 300.3L601.1 298.2L601.4 296.1L601.7 294.4L602.0 293.6L602.3 294.5L602.6 298.3L602.9 302.0L603.2 302.6L603.5 301.5L603.8 299.4L604.1 296.9L604.4 294.8L604.7 293.5L605.0 293.5L605.3 294.5L605.6 296.1L605.9 298.1L606.2 300.0L606.5 301.4L606.8 302.0L607.1 301.7L607.4 300.4L607.7 298.7L608.0 296.7L608.3 295.1L608.6 294.2L608.9 294.5L609.2 297.5L609.5 300.9L609.8 301.7L610.1 300.1L610.4 297.7L610.7 296.1L611.0 296.1L611.3 297.1L611.6 298.7L611.9 300.3L612.2 301.5L612.5 301.9L612.8 301.5L613.1 300.2L613.4 298.6L613.7 297.1L614.0 296.1L614.3 296.0L614.6 296.7L614.9 298.1L615.2 299.8L615.5 301.4L615.8 302.5L616.1 302.9L616.4 302.3L616.7 300.7L617.0 298.6L617.3 296.5L617.6 295.0L617.9 294.5L618.2 295.2L618.5 297.1L618.8 299.3L619.1 300.9L619.4 301.3L619.7 300.8L620.0 299.9L620.3 298.6L620.6 297.4L620.9 296.4L621.2 295.8L621.4 296.0L621.7 297.0L622.0 298.5L622.3 300.0L622.6 300.9L622.9 300.5L623.2 298.0L623.5 295.2L623.8 294.3L624.1 294.9L624.4 296.2L624.7 297.9L625.0 299.7L625.3 301.1L625.6 301.8L625.9 301.6L626.2 300.4L626.5 298.6L626.8 296.6L627.1 294.9L627.4 294.0L627.7 294.1L628.0 295.8L628.3 298.3L628.6 300.8L628.9 302.3L629.2 302.3L629.5 300.7L629.8 298.2L630.1 296.2L630.4 295.9L630.7 297.1L631.0 299.0L631.3 300.3L631.6 300.0L631.9 297.5L632.2 294.9L632.5 294.3L632.8 294.8L633.1 295.9L633.4 297.4L633.7 298.8L634.0 299.9L634.3 300.5L634.6 300.3L634.9 299.3L635.2 297.8L635.5 296.1L635.8 294.8L636.1 294.2L636.4 294.6L636.7 295.9L637.0 297.7L637.3 299.7L637.6 301.1L637.9 301.5L638.2 300.7L638.5 298.9L638.8 296.7L639.1 295.0L639.4 294.5L639.7 295.8L640.0 298.6L640.3 301.2L640.6 302.0L640.9 300.9L641.2 298.6L641.5 296.6L641.8 296.1L642.1 296.5L642.4 297.2L642.7 298.1L642.9 299.1L643.2 299.9L643.5 300.3L643.8 300.1L644.1 298.9L644.4 297.2L644.7 296.1L645.0 296.6L645.3 298.6L645.6 300.2L645.9 300.2L646.2 299.6L646.5 298.5L646.8 297.1L647.1 295.9L647.4 294.9L647.7 294.5L648.0 295.0L648.3 296.4L648.6 298.2L648.9 299.6L649.2 300.0L649.5 299.6L649.8 298.7L650.1 297.6L650.4 296.4L650.7 295.5L651.0 295.1L651.3 295.3L651.6 296.1L651.9 297.3L652.2 298.7L652.5 299.9L652.8 300.7L653.1 300.8L653.4 299.4L653.7 297.3L654.0 296.0L654.3 296.2L654.6 296.8L654.9 297.8L655.2 298.8L655.5 299.6L655.8 300.0L656.1 299.8L656.4 298.3L656.7 296.3L657.0 295.3L657.3 295.8L657.6 297.4L657.9 299.1L658.2 300.0L658.5 299.9L658.8 299.2L659.1 298.2L659.4 297.0L659.7 296.0L660.0 295.3L660.3 295.3L660.6 295.6L660.9 296.3L661.2 297.2L661.5 298.1L661.8 298.9L662.1 299.4L662.4 299.4L662.7 298.5L663.0 296.8L663.3 295.2L663.6 294.5L663.9 295.1L664.2 296.6L664.4 298.5L664.7 300.0L665.0 300.6L665.3 300.0L665.6 298.6L665.9 297.0L666.2 295.8L666.5 295.5L666.8 295.7L667.1 296.3L667.4 297.1L667.7 298.0L668.0 298.7L668.3 299.1L668.6 299.1L668.9 298.5L669.2 297.6L669.5 296.5L669.8 295.7L670.1 295.4L670.4 296.1L670.7 297.4L671.0 298.2L671.3 298.1L671.6 297.4L671.9 296.7L672.2 296.2L673.1 296.2" fill="none" stroke="#000000" stroke-width="0.85" stroke-linejoin="round"/>
<path d="M505.3 253.7L505.6 297.9L505.9 296.2L519.6 296.2L519.9 296.3L520.2 296.4L520.5 296.4L520.8 296.2L521.1 296.0L521.4 295.8L521.7 295.7L522.0 295.8L522.3 296.0L522.6 296.2L522.9 296.4L523.2 296.6L523.5 296.6L523.8 296.7L524.1 296.6L524.4 295.8L524.7 295.0L525.0 294.5L525.3 295.1L525.6 296.4L525.9 297.5L526.2 297.9L526.5 297.6L526.8 296.9L527.1 295.6L527.4 293.8L527.7 293.1L528.0 294.5L528.3 297.5L528.6 300.2L528.9 301.2L529.2 300.7L529.5 299.0L529.8 294.4L530.1 292.3L530.4 294.6L530.7 297.6L531.0 299.7L531.3 300.1L531.6 298.8L531.9 296.2L532.2 292.2L532.5 287.9L532.8 287.7L533.1 292.5L533.4 297.6L533.7 298.2L534.0 298.0L534.3 301.2L534.6 302.1L534.9 296.1L535.2 287.5L535.5 284.8L535.7 294.7L536.0 310.3L536.3 319.2L536.6 315.6L536.9 303.9L537.2 293.6L537.5 289.8L537.8 290.7L538.1 292.5L538.4 292.4L538.7 291.1L539.0 290.7L539.3 293.2L539.6 299.0L539.9 305.6L540.2 307.7L540.5 302.0L540.8 291.5L541.1 282.8L541.4 281.7L541.7 290.6L542.0 305.4L542.3 316.1L542.6 316.6L542.9 308.4L543.2 296.6L543.5 288.3L543.8 285.8L544.1 287.7L544.4 291.0L544.7 296.0L545.0 299.1L545.3 296.7L545.6 291.4L545.9 287.6L546.2 287.2L546.5 292.2L546.8 301.2L547.1 310.5L547.4 316.4L547.7 314.7L548.0 306.6L548.3 297.5L548.6 292.3L548.9 292.2L549.2 295.0L549.5 296.8L549.8 297.0L550.1 299.3L550.4 300.1L550.7 298.3L551.0 297.6L551.3 297.9L551.6 298.5L551.9 298.4L552.2 298.5L552.5 300.3L552.8 299.9L553.1 302.5L553.4 303.2L553.7 302.0L554.0 299.6L554.3 297.1L554.6 294.8L554.9 291.8L555.2 291.0L555.5 295.1L555.8 303.3L556.1 311.5L556.4 314.4L556.7 306.0L557.0 291.3L557.2 283.8L557.5 285.3L557.8 289.7L558.1 295.8L558.4 301.7L558.7 305.9L559.0 307.0L559.3 301.9L559.6 293.5L559.9 288.6L560.2 288.3L560.5 291.3L560.8 297.8L561.1 305.2L561.4 310.1L561.7 310.6L562.0 305.2L562.3 294.9L562.6 288.7L562.9 289.6L563.2 293.7L563.5 298.5L563.8 301.6L564.1 301.1L564.4 297.6L564.7 293.6L565.0 290.1L565.3 289.9L565.6 294.0L565.9 299.3L566.2 301.9L566.5 302.6L566.8 302.0L567.1 300.3L567.4 298.2L567.7 296.3L568.0 296.0L568.3 299.0L568.6 301.1L568.9 299.5L569.2 296.8L569.5 294.4L569.8 293.1L570.1 293.7L570.4 295.8L570.7 298.7L571.0 301.4L571.3 303.1L571.6 303.2L571.9 301.4L572.2 298.0L572.5 294.0L572.8 290.8L573.1 289.9L573.4 292.2L573.7 296.5L574.0 300.2L574.3 302.3L574.6 302.9L574.9 302.0L575.2 299.3L575.5 294.1L575.8 290.7L576.1 292.5L576.4 296.1L576.7 299.1L577.0 300.6L577.3 300.5L577.6 298.2L577.9 294.5L578.2 291.8L578.5 291.8L578.7 293.5L579.0 296.3L579.3 299.2L579.6 301.1L579.9 301.5L580.2 300.8L580.5 299.0L580.8 296.6L581.1 294.3L581.4 292.9L581.7 292.8L582.0 294.0L582.3 296.3L582.6 298.6L582.9 300.0L583.2 299.9L583.5 298.5L583.8 296.1L584.1 293.5L584.4 291.7L584.7 291.2L585.0 292.9L585.3 296.1L585.6 299.4L585.9 301.4L586.2 301.7L586.5 300.7L586.8 298.8L587.1 296.5L587.4 294.5L587.7 293.4L588.0 293.4L588.3 294.4L588.6 296.3L588.9 298.4L589.2 300.1L589.5 300.8L589.8 299.6L590.1 296.2L590.4 293.2L590.7 293.0L591.0 295.5L591.3 298.4L591.6 299.7L591.9 299.3L592.2 298.0L592.5 296.8L592.8 296.4L593.1 295.9L593.4 295.3L593.7 295.1L594.0 295.5L594.3 296.4L594.6 297.4L594.9 297.8L595.2 297.5L595.5 296.9L595.8 296.4L596.1 295.5L596.4 294.6L596.7 295.0L597.0 296.2L597.3 297.2L597.6 297.5L597.9 297.1L598.2 296.3L598.5 295.8L598.8 295.8L599.1 296.3L599.4 297.0L599.7 297.5L599.9 297.7L600.2 297.8L600.5 297.8L600.8 297.4L601.1 296.5L601.4 295.5L601.7 294.6L602.0 294.2L602.3 294.4L602.6 295.0L602.9 295.7L603.2 296.5L603.5 297.5L603.8 297.6L604.1 296.3L604.4 295.0L604.7 294.5L605.0 295.0L605.3 295.8L605.6 296.2L605.9 295.8L606.2 294.9L606.5 294.2L606.8 294.1L607.1 295.0L607.4 296.2L607.7 297.6L608.0 298.6L608.3 299.0L608.6 298.8L608.9 297.4L609.2 295.0L609.5 293.0L609.8 292.7L610.1 294.2L610.4 296.2L610.7 297.6L611.0 298.0L611.3 297.9L611.6 297.6L611.9 296.4L612.2 294.5L612.5 294.1L612.8 295.4L613.1 297.5L613.4 299.1L613.7 299.4L614.0 298.5L614.3 296.9L614.6 295.2L614.9 293.9L615.2 293.5L615.5 294.1L615.8 295.5L616.1 297.3L616.4 299.1L616.7 300.2L617.0 300.4L617.3 299.0L617.6 296.6L617.9 294.7L618.2 294.0L618.5 293.9L618.8 294.5L619.1 295.7L619.4 297.0L619.7 298.0L620.0 298.4L620.3 297.9L620.6 297.0L620.9 295.9L621.2 295.0L621.4 294.5L621.7 294.4L622.0 294.9L622.3 295.7L622.6 296.9L622.9 298.0L623.2 298.8L623.5 298.9L623.8 298.0L624.1 296.2L624.4 294.2L624.7 293.3L625.0 293.4L625.3 294.5L625.6 296.0L625.9 297.6L626.2 298.7L626.5 298.7L626.8 297.6L627.1 296.1L627.4 295.2L627.7 295.1L628.0 295.5L628.3 296.1L628.6 296.2L628.9 295.7L629.2 295.2L629.5 295.6L629.8 296.6L630.1 297.4L630.4 297.7L630.7 297.4L631.0 296.8L631.3 296.1L631.6 295.7L631.9 295.6L632.2 295.6L632.5 295.7L632.8 295.7L633.1 295.9L633.4 296.6L633.7 297.1L634.0 297.2L634.3 297.1L634.6 296.8L634.9 296.3L635.2 295.7L635.5 295.2L635.8 294.8L636.1 295.5L636.4 296.7L636.7 297.0L637.0 296.0L637.3 294.5L637.6 293.8L637.9 294.5L638.2 295.7L638.5 296.9L638.8 297.8L639.1 298.2L639.4 297.9L639.7 297.1L640.0 295.9L640.3 294.7L640.6 294.4L640.9 295.2L641.2 296.6L641.5 297.9L641.8 298.5L642.1 298.4L642.4 297.7L642.7 296.4L642.9 295.1L643.2 295.1L643.5 296.4L643.8 298.1L644.1 299.0L644.4 298.8L644.7 297.6L645.0 296.0L645.3 294.6L645.6 294.1L645.9 294.7L646.2 296.1L646.5 297.5L646.8 298.3L647.1 298.6L647.4 298.3L647.7 297.6L648.0 296.6L648.3 295.5L648.6 294.5L648.9 294.0L649.2 294.1L649.5 294.7L649.8 295.7L650.1 296.8L650.4 297.7L650.7 298.3L651.0 298.2L651.3 297.7L651.6 296.9L651.9 296.2L652.2 295.6L652.5 295.2L652.8 295.2L653.1 295.6L653.4 296.6L653.7 298.2L654.0 299.2L654.3 298.6L654.6 296.7L654.9 295.0L655.2 294.8L655.5 295.5L655.8 296.7L656.1 297.9L656.4 298.6L656.7 298.2L657.0 296.7L657.3 294.9L657.6 294.1L657.9 294.4L658.2 295.6L658.5 297.1L658.8 298.4L659.1 298.8L659.4 298.5L659.7 297.7L660.0 296.7L660.3 295.5L660.6 294.6L660.9 294.1L661.2 294.1L661.5 294.6L661.8 295.4L662.1 296.5L662.4 297.4L662.7 298.1L663.0 298.3L663.3 298.1L663.6 297.3L663.9 296.2L664.2 295.1L664.4 294.5L664.7 294.4L665.0 294.9L665.3 295.8L665.6 296.8L665.9 297.4L666.2 297.7L666.5 297.5L666.8 297.0L667.1 296.4L667.4 295.8L667.7 295.3L668.0 295.1L668.3 295.4L668.6 295.9L668.9 296.7L669.2 297.4L669.5 297.8L669.8 297.8L670.1 297.4L670.4 296.7L670.7 296.0L671.0 295.5L671.3 295.3L671.6 295.6L671.9 295.9L672.2 296.1L672.5 296.3L672.8 296.6L673.1 296.8" fill="none" stroke="#0000ff" stroke-width="0.8" stroke-linejoin="round"/>
<path d="M505.3 269.4L505.6 291.2L516.9 291.2L517.2 291.3L517.5 291.3L517.8 291.2L518.1 291.1L518.4 291.0L518.7 291.1L519.0 291.7L519.3 291.9L519.6 290.9L519.9 290.3L520.2 290.5L520.5 290.9L520.8 291.4L521.1 291.6L521.4 291.3L521.7 290.7L522.0 290.3L522.3 290.6L522.6 291.8L522.9 293.1L523.2 293.4L523.5 291.7L523.8 290.0L524.1 290.7L524.4 293.6L524.7 294.5L525.0 292.5L525.3 289.2L525.6 287.0L525.9 287.6L526.2 291.8L526.5 295.9L526.8 295.3L527.1 287.8L527.4 285.6L527.7 289.9L528.0 294.4L528.3 294.3L528.6 291.0L528.9 287.0L529.2 284.7L529.5 288.0L529.8 294.1L530.1 293.8L530.4 292.1L530.7 290.2L531.0 289.2L531.3 289.7L531.6 291.7L531.9 293.8L532.2 294.5L532.5 290.6L532.8 285.2L533.1 284.1L533.4 286.4L533.7 289.9L534.0 292.4L534.3 292.6L534.6 291.8L534.9 290.6L535.2 289.8L535.5 290.0L535.7 292.4L536.0 295.3L536.3 296.3L536.6 288.8L536.9 282.8L537.2 286.2L537.5 293.3L537.8 298.7L538.1 298.4L538.4 293.5L538.7 287.7L539.0 285.1L539.3 289.5L539.6 295.1L539.9 294.5L540.2 291.9L540.5 289.7L540.8 290.3L541.1 295.3L541.4 296.9L541.7 293.6L542.0 288.9L542.3 286.5L542.6 287.7L542.9 291.0L543.2 294.5L543.5 296.1L543.8 295.1L544.1 292.2L544.4 289.4L544.7 288.7L545.0 291.2L545.3 295.5L545.6 298.8L545.9 298.9L546.2 294.7L546.5 289.2L546.8 286.6L547.1 287.5L547.4 290.0L547.7 292.2L548.0 292.8L548.3 291.5L548.6 289.1L548.9 287.2L549.2 286.8L549.5 290.3L549.8 294.7L550.1 295.0L550.4 291.2L550.7 288.6L551.0 289.5L551.3 291.6L551.6 293.7L551.9 294.6L552.2 293.0L552.5 289.5L552.8 286.2L553.1 284.8L553.4 286.2L553.7 289.3L554.0 292.1L554.3 292.9L554.6 292.0L554.9 290.3L555.2 288.7L555.5 288.1L555.8 288.8L556.1 290.3L556.4 291.9L556.7 292.5L557.0 291.0L557.2 288.4L557.5 287.8L557.8 288.9L558.1 290.6L558.4 291.9L558.7 291.9L559.0 290.7L559.3 288.9L559.6 287.5L559.9 287.2L560.2 288.9L560.5 291.6L560.8 293.2L561.1 292.8L561.4 291.5L561.7 290.1L562.0 289.6L562.3 290.5L562.6 292.5L562.9 293.9L563.2 293.5L563.5 291.1L563.8 289.5L564.1 289.7L564.4 290.9L564.7 292.4L565.0 293.8L565.3 294.5L565.6 293.4L565.9 289.9L566.2 287.8L566.5 289.3L566.8 292.0L567.1 292.8L567.4 291.8L567.7 290.5L568.0 290.1L568.3 290.6L568.6 291.4L568.9 292.0L569.2 292.3L569.5 292.0L569.8 291.3L570.1 290.6L570.4 290.2L570.7 290.2L571.0 290.9L571.3 291.9L571.6 292.9L571.9 293.4L572.2 293.2L572.5 292.0L572.8 290.5L573.1 289.4L573.4 289.4L573.7 290.0L574.0 291.1L574.3 292.2L574.6 292.9L574.9 293.0L575.2 291.9L575.5 290.2L575.8 289.2L576.1 289.5L576.4 290.5L576.7 291.7L577.0 292.4L577.3 292.3L577.6 291.8L577.9 291.0L578.2 290.2L578.5 289.6L578.7 289.4L579.0 289.9L579.3 291.0L579.6 291.8L579.9 291.8L580.2 291.0L580.5 290.4L580.8 290.3L581.1 290.7L581.4 291.2L581.7 291.8L582.0 292.3L582.3 292.6L582.6 292.4L582.9 291.7L583.2 290.7L583.5 289.9L583.8 289.4L584.1 289.5L584.4 289.9L584.7 290.5L585.0 291.1L585.3 291.6L585.6 291.7L585.9 291.1L586.2 290.1L586.5 289.6L586.8 290.0L587.1 291.1L587.4 291.7L587.7 291.5L588.0 291.0L588.3 290.6L588.6 290.4L588.9 290.9L589.2 291.7L589.5 292.3L589.8 292.1L590.1 291.5L590.4 290.7L590.7 290.0L591.0 289.7L591.3 290.0L591.6 290.7L591.9 291.5L592.2 291.9L592.5 291.8L592.8 291.3L593.1 290.7L593.4 290.3L593.7 290.3L594.0 290.6L594.3 291.0L594.6 291.4L594.9 291.7L595.2 291.8L595.5 291.5L595.8 290.8L596.1 290.2L596.4 290.1L596.7 290.3L597.0 290.7L597.3 291.1L597.6 291.4L597.9 291.6L598.2 291.6L598.5 291.4L598.8 291.1L599.1 290.7L599.4 290.3L599.7 290.1L599.9 290.1L600.2 290.4L600.5 291.2L600.8 291.7L601.1 291.7L601.4 291.5L601.7 291.1L602.0 290.6L602.3 290.3L602.6 290.2L602.9 290.5L603.2 290.8L603.5 291.1L603.8 291.1L604.1 290.7L604.4 290.2L604.7 290.0L605.0 290.2L605.3 290.6L605.6 291.0L605.9 291.4L606.2 291.6L606.5 291.5L606.8 291.3L607.1 291.0L607.4 290.8L607.7 290.5L608.0 290.4L608.3 290.4L608.6 290.5L608.9 290.8L609.2 291.0L609.5 291.2L609.8 291.3L610.1 290.9L610.4 290.5L610.7 290.3L611.0 290.5L611.3 290.8L611.6 291.1L611.9 291.3L612.2 291.2L612.5 290.9L612.8 290.6L613.1 290.6L613.4 290.9L613.7 291.2L614.0 291.4L614.3 291.4L614.6 291.3L614.9 291.1L615.2 290.9L615.5 290.8L615.8 290.7L616.1 290.8L616.4 290.9L616.7 291.0L617.0 291.2L617.6 291.2L617.9 291.1L618.2 290.9L618.5 290.7L618.8 290.5L619.1 290.4L619.4 290.6L619.7 291.0L620.0 291.2L620.3 291.2L620.6 291.0L620.9 290.8L621.2 290.6L621.4 290.5L621.7 290.6L622.0 290.9L622.3 291.2L622.6 291.4L622.9 291.4L623.2 291.2L623.5 290.9L623.8 290.6L624.1 290.4L624.4 290.5L624.7 290.8L625.0 291.2L625.3 291.4L625.6 291.5L625.9 291.4L626.2 291.2L626.5 290.9L626.8 290.7L627.1 290.6L627.4 290.5L627.7 290.6L628.0 290.8L628.3 291.1L628.6 291.3L628.9 291.4L629.2 291.4L629.5 291.2L629.8 291.0L630.1 290.7L630.4 290.4L630.7 290.2L631.0 290.2L631.3 290.5L631.6 290.9L631.9 291.3L632.2 291.4L632.5 291.2L632.8 290.9L633.1 290.7L633.4 290.7L633.7 290.8L634.0 291.0L634.3 291.2L634.6 291.5L634.9 291.6L635.2 291.6L635.5 291.5L635.8 291.2L636.1 290.8L636.4 290.5L636.7 290.3L637.0 290.3L637.3 290.4L637.6 290.6L637.9 290.9L638.2 291.1L638.5 291.3L638.8 291.3L639.1 291.2L639.4 291.0L639.7 290.7L640.0 290.4L640.3 290.3L640.6 290.2L640.9 290.5L641.2 290.9L641.5 291.2L641.8 291.3L642.1 291.0L642.4 290.4L642.7 290.1L642.9 290.1L643.2 290.3L643.5 290.5L643.8 290.8L644.1 291.1L644.4 291.3L644.7 291.4L645.0 291.3L645.3 291.1L645.6 290.8L645.9 290.7L646.2 290.7L646.5 290.9L646.8 291.2L647.1 291.3L647.4 291.4L647.7 291.3L648.0 291.1L648.3 290.9L648.6 290.7L648.9 290.6L649.2 290.6L649.5 290.9L649.8 291.1L650.1 291.3L650.4 291.2L650.7 291.1L651.0 291.0L651.3 290.9L651.6 290.7L651.9 290.6L652.2 290.5L652.5 290.6L652.8 290.6L653.1 290.8L653.4 290.9L653.7 291.0L654.0 291.1L654.3 291.2L654.6 291.1L654.9 290.9L655.2 290.7L655.5 290.5L655.8 290.4L656.1 290.5L656.4 290.7L656.7 290.9L657.0 291.0L657.3 291.0L657.6 290.9L657.9 290.8L658.2 290.6L658.5 290.5L658.8 290.4L659.1 290.4L659.4 290.6L659.7 290.8L660.0 291.0L660.3 291.1L660.6 291.1L660.9 291.0L661.2 290.9L661.5 290.8L661.8 290.7L662.1 290.6L662.4 290.6L662.7 290.7L663.0 290.7L663.3 290.8L663.6 290.9L663.9 290.9L664.2 291.0L664.7 291.0L665.0 290.8L665.3 290.6L665.6 290.4L665.9 290.3L666.2 290.3L666.5 290.5L666.8 290.6L667.1 290.9L667.4 291.0L667.7 291.1L668.3 291.1L668.6 290.9L668.9 290.8L669.2 290.7L669.5 290.6L669.8 290.5L670.1 290.6L670.4 290.7L670.7 290.8L671.0 290.9L671.3 290.9L671.6 290.8L671.9 290.7L672.2 290.6L672.5 290.5L672.8 290.4L673.1 290.3" fill="none" stroke="#ff0000" stroke-width="0.8" stroke-linejoin="round"/>
</g>
<rect x="496.90" y="211.25" width="184.60" height="169.85" fill="none" stroke="#111" stroke-width="1.1"/>
<line x1="493.40" y1="211.25" x2="496.90" y2="211.25" stroke="#111" stroke-width="1.0"/>
<line x1="493.40" y1="253.71" x2="496.90" y2="253.71" stroke="#111" stroke-width="1.0"/>
<line x1="493.40" y1="296.18" x2="496.90" y2="296.18" stroke="#111" stroke-width="1.0"/>
<line x1="493.40" y1="338.64" x2="496.90" y2="338.64" stroke="#111" stroke-width="1.0"/>
<line x1="493.40" y1="381.10" x2="496.90" y2="381.10" stroke="#111" stroke-width="1.0"/>
<line x1="505.29" y1="381.10" x2="505.29" y2="384.60" stroke="#111" stroke-width="1.0"/>
<text x="502.02" y="397.70" font-size="11.81" textLength="6.55" lengthAdjust="spacingAndGlyphs">0</text>
<line x1="565.01" y1="381.10" x2="565.01" y2="384.60" stroke="#111" stroke-width="1.0"/>
<text x="554.41" y="397.70" font-size="11.81" textLength="20.75" lengthAdjust="spacingAndGlyphs">100</text>
<line x1="624.73" y1="381.10" x2="624.73" y2="384.60" stroke="#111" stroke-width="1.0"/>
<text x="614.24" y="397.70" font-size="11.81" textLength="20.85" lengthAdjust="spacingAndGlyphs">200</text>
<text x="507.09" y="231.35" font-size="11.81" textLength="12.36" lengthAdjust="spacingAndGlyphs">(f)</text>
<text x="622.50" y="231.60" font-size="11.81" textLength="56.92" lengthAdjust="spacingAndGlyphs">0.004 deg</text>
<text x="611.02" y="231.60" font-size="11.81" textLength="9.38" lengthAdjust="spacingAndGlyphs">=</text>
<text x="597.86" y="233.20" font-size="8.27" textLength="9.88" lengthAdjust="spacingAndGlyphs" font-style="italic">ET</text>
<text x="573.50" y="231.60" font-size="11.81" textLength="24.51" lengthAdjust="spacingAndGlyphs">RMS</text>
<text x="622.50" y="248.10" font-size="11.81" textLength="56.92" lengthAdjust="spacingAndGlyphs">0.003 deg</text>
<text x="611.02" y="248.10" font-size="11.81" textLength="9.38" lengthAdjust="spacingAndGlyphs">=</text>
<text x="597.45" y="249.70" font-size="8.27" textLength="10.77" lengthAdjust="spacingAndGlyphs" font-style="italic">NT</text>
<text x="573.19" y="248.10" font-size="11.81" textLength="24.62" lengthAdjust="spacingAndGlyphs">RMS</text>
<text x="622.50" y="264.60" font-size="11.81" textLength="56.92" lengthAdjust="spacingAndGlyphs">0.064 deg</text>
<text x="611.02" y="264.60" font-size="11.81" textLength="9.38" lengthAdjust="spacingAndGlyphs">=</text>
<text x="598.07" y="266.20" font-size="8.27" textLength="10.88" lengthAdjust="spacingAndGlyphs" font-style="italic">TR</text>
<text x="573.68" y="264.60" font-size="11.81" textLength="25.04" lengthAdjust="spacingAndGlyphs">RMS</text>
<text x="572.12" y="360.85" font-size="11.81" textLength="33.97" lengthAdjust="spacingAndGlyphs">INTEG</text>
<text x="537.43" y="373.50" font-size="11.81" textLength="106.82" lengthAdjust="spacingAndGlyphs">Tilts &amp; Torsion (M2)</text>
<text x="-32.00" y="0" font-size="11.81" textLength="64.75" lengthAdjust="spacingAndGlyphs" transform="translate(11.2,92.23) rotate(-90)">Angle (deg)</text>
<text x="-32.00" y="0" font-size="11.81" textLength="64.75" lengthAdjust="spacingAndGlyphs" transform="translate(11.2,296.18) rotate(-90)">Angle (deg)</text>
<text x="123.80" y="412.80" font-size="11.81" textLength="45.48" lengthAdjust="spacingAndGlyphs">Time (s)</text>
<text x="345.45" y="412.80" font-size="11.81" textLength="45.48" lengthAdjust="spacingAndGlyphs">Time (s)</text>
<text x="566.90" y="412.80" font-size="11.81" textLength="45.48" lengthAdjust="spacingAndGlyphs">Time (s)</text>
</g>
</g>
</svg>
</body></html>
